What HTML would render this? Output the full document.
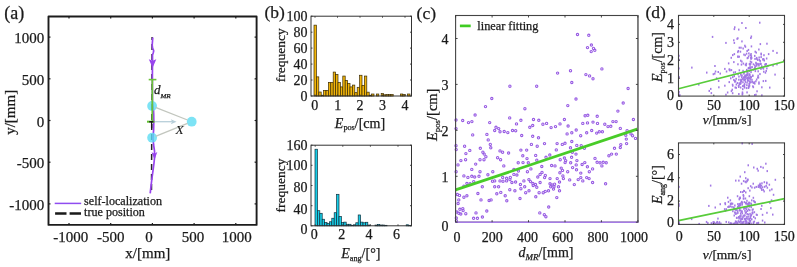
<!DOCTYPE html>
<html><head><meta charset="utf-8"><style>
html,body{margin:0;padding:0;background:#fff;}
svg{display:block;will-change:transform;filter:blur(0.3px);}
text{font-family:"Liberation Serif", serif;fill:#1a1a1a;stroke:#1a1a1a;stroke-width:0.25px;font-variant-ligatures:none;}
</style></head><body>
<svg width="797" height="267" viewBox="0 0 797 267">
<rect width="797" height="267" fill="#fff"/>
<line x1="152.1" y1="37" x2="151.5" y2="193" stroke="#262626" stroke-width="1.5" stroke-dasharray="6,4" stroke-dashoffset="3"/>
<path d="M152.8 37.5 L152.5 41 L152.2 45 L152.6 48 L153.7 50.8 L153.2 53 L152.5 55 L152.5 62 L152.4 75 L152.4 90 L152.5 103 L153.5 110 L153.7 114 L153.8 121 L153.6 130 L153.0 138 L153.6 145 L154.5 151 L154.6 157 L154.0 163 L153.1 170 L152.0 178 L151.0 186 L150.2 193.3" fill="none" stroke="#9844ee" stroke-width="1.7" stroke-linejoin="round"/>
<path d="M152.6 67.8 L148.8 59.3 L152.6 60.7 L156.3 59.3 Z" fill="#9844ee"/>
<path d="M154.5 159.8 L151.6 152.2 L154.5 153.8 L157.3 152.0 Z" fill="#9844ee"/>
<circle cx="152.1" cy="106.0" r="4.9" fill="#5cdcf2" fill-opacity="0.8"/>
<circle cx="191.7" cy="121.7" r="4.9" fill="#5cdcf2" fill-opacity="0.8"/>
<circle cx="152.1" cy="137.7" r="4.9" fill="#5cdcf2" fill-opacity="0.8"/>
<line x1="155.5" y1="107.3" x2="187.5" y2="120.0" stroke="#c2c6be" stroke-width="1.3"/>
<line x1="155.5" y1="136.3" x2="187.5" y2="123.4" stroke="#c2c6be" stroke-width="1.3"/>
<line x1="155" y1="121.7" x2="174" y2="121.7" stroke="#b8cfda" stroke-width="1.3"/>
<path d="M176.6 121.7 L170.8 119.2 L172.2 121.7 L170.8 124.2 Z" fill="#b8cfda"/>
<line x1="152.3" y1="79.5" x2="152.3" y2="121.7" stroke="#6cc23a" stroke-width="1.8"/>
<line x1="148.7" y1="79.6" x2="156.4" y2="79.6" stroke="#6cc23a" stroke-width="1.6"/>
<line x1="147.0" y1="121.7" x2="154.6" y2="121.7" stroke="#5fbf2f" stroke-width="2.0"/>
<line x1="149.2" y1="121.8" x2="153.4" y2="121.8" stroke="#111" stroke-width="1.3"/>
<line x1="151.6" y1="121.0" x2="151.6" y2="128.3" stroke="#1a1a1a" stroke-width="1.3"/>
<text x="153.9" y="94.4" font-size="13" font-style="italic">d<tspan font-size="7.1" dy="3.5">MR</tspan></text>
<text x="175.6" y="134.4" font-size="13.5" font-style="italic" style="stroke-width:0.1px">X</text>
<line x1="54.7" y1="203.4" x2="81.2" y2="203.4" stroke="#8f4cf0" stroke-width="1.5"/>
<line x1="55.1" y1="213.5" x2="81.2" y2="213.5" stroke="#1a1a1a" stroke-width="2.7" stroke-dasharray="11.4,3.1"/>
<text x="84.1" y="204.5" font-size="12.1" text-anchor="start" >self-localization</text>
<text x="84.1" y="215.9" font-size="12.1" text-anchor="start" >true position</text>
<rect x="48.5" y="16.5" width="208.10000000000002" height="208.4" fill="none" stroke="#1c1c1c" stroke-width="1.9" stroke-linejoin="round"/>
<line x1="69.0" y1="224.9" x2="69.0" y2="222.9" stroke="#1c1c1c" stroke-width="1.2"/>
<line x1="69.0" y1="16.5" x2="69.0" y2="18.5" stroke="#1c1c1c" stroke-width="1.2"/>
<line x1="48.5" y1="203.9" x2="50.5" y2="203.9" stroke="#1c1c1c" stroke-width="1.2"/>
<line x1="256.6" y1="203.9" x2="254.60000000000002" y2="203.9" stroke="#1c1c1c" stroke-width="1.2"/>
<line x1="110.7" y1="224.9" x2="110.7" y2="222.9" stroke="#1c1c1c" stroke-width="1.2"/>
<line x1="110.7" y1="16.5" x2="110.7" y2="18.5" stroke="#1c1c1c" stroke-width="1.2"/>
<line x1="48.5" y1="162.2" x2="50.5" y2="162.2" stroke="#1c1c1c" stroke-width="1.2"/>
<line x1="256.6" y1="162.2" x2="254.60000000000002" y2="162.2" stroke="#1c1c1c" stroke-width="1.2"/>
<line x1="152.4" y1="224.9" x2="152.4" y2="222.9" stroke="#1c1c1c" stroke-width="1.2"/>
<line x1="152.4" y1="16.5" x2="152.4" y2="18.5" stroke="#1c1c1c" stroke-width="1.2"/>
<line x1="48.5" y1="120.5" x2="50.5" y2="120.5" stroke="#1c1c1c" stroke-width="1.2"/>
<line x1="256.6" y1="120.5" x2="254.60000000000002" y2="120.5" stroke="#1c1c1c" stroke-width="1.2"/>
<line x1="194.1" y1="224.9" x2="194.1" y2="222.9" stroke="#1c1c1c" stroke-width="1.2"/>
<line x1="194.1" y1="16.5" x2="194.1" y2="18.5" stroke="#1c1c1c" stroke-width="1.2"/>
<line x1="48.5" y1="78.8" x2="50.5" y2="78.8" stroke="#1c1c1c" stroke-width="1.2"/>
<line x1="256.6" y1="78.8" x2="254.60000000000002" y2="78.8" stroke="#1c1c1c" stroke-width="1.2"/>
<line x1="235.8" y1="224.9" x2="235.8" y2="222.9" stroke="#1c1c1c" stroke-width="1.2"/>
<line x1="235.8" y1="16.5" x2="235.8" y2="18.5" stroke="#1c1c1c" stroke-width="1.2"/>
<line x1="48.5" y1="37.1" x2="50.5" y2="37.1" stroke="#1c1c1c" stroke-width="1.2"/>
<line x1="256.6" y1="37.1" x2="254.60000000000002" y2="37.1" stroke="#1c1c1c" stroke-width="1.2"/>
<text x="70.75" y="241.7" font-size="15" text-anchor="middle" >-1000</text>
<text x="110.7" y="241.7" font-size="15" text-anchor="middle" >-500</text>
<text x="149.0" y="241.7" font-size="15" text-anchor="middle" >0</text>
<text x="193.0" y="241.7" font-size="15" text-anchor="middle" >500</text>
<text x="236.8" y="241.7" font-size="15" text-anchor="middle" >1000</text>
<text x="44.2" y="43.1" font-size="15" text-anchor="end" >1000</text>
<text x="44.2" y="84.8" font-size="15" text-anchor="end" >500</text>
<text x="44.2" y="126.5" font-size="15" text-anchor="end" >0</text>
<text x="44.2" y="168.2" font-size="15" text-anchor="end" >-500</text>
<text x="44.2" y="209.9" font-size="15" text-anchor="end" >-1000</text>
<text x="147.8" y="258.2" font-size="15" text-anchor="middle" >x/[mm]</text>
<text transform="translate(15.3,112.3) rotate(-90)" font-size="15" text-anchor="middle">y/[mm]</text>
<text x="4.3" y="19.0" font-size="18" text-anchor="start" >(a)</text>
<rect x="314.00" y="25.14" width="2.40" height="70.86" fill="#f2b50a" stroke="#3b2c05" stroke-width="0.7"/>
<rect x="316.40" y="76.85" width="2.40" height="19.15" fill="#f2b50a" stroke="#3b2c05" stroke-width="0.7"/>
<rect x="318.80" y="92.01" width="2.40" height="3.99" fill="#f2b50a" stroke="#3b2c05" stroke-width="0.7"/>
<rect x="321.20" y="95.20" width="2.40" height="0.80" fill="#f2b50a" stroke="#3b2c05" stroke-width="0.7"/>
<rect x="323.60" y="90.41" width="2.40" height="5.59" fill="#f2b50a" stroke="#3b2c05" stroke-width="0.7"/>
<rect x="326.00" y="90.41" width="2.40" height="5.59" fill="#f2b50a" stroke="#3b2c05" stroke-width="0.7"/>
<rect x="328.40" y="82.43" width="2.40" height="13.57" fill="#f2b50a" stroke="#3b2c05" stroke-width="0.7"/>
<rect x="330.80" y="82.43" width="2.40" height="13.57" fill="#f2b50a" stroke="#3b2c05" stroke-width="0.7"/>
<rect x="333.20" y="72.06" width="2.40" height="23.94" fill="#f2b50a" stroke="#3b2c05" stroke-width="0.7"/>
<rect x="335.60" y="74.45" width="2.40" height="21.55" fill="#f2b50a" stroke="#3b2c05" stroke-width="0.7"/>
<rect x="338.00" y="82.43" width="2.40" height="13.57" fill="#f2b50a" stroke="#3b2c05" stroke-width="0.7"/>
<rect x="340.40" y="86.90" width="2.40" height="9.10" fill="#f2b50a" stroke="#3b2c05" stroke-width="0.7"/>
<rect x="342.80" y="76.05" width="2.40" height="19.95" fill="#f2b50a" stroke="#3b2c05" stroke-width="0.7"/>
<rect x="345.20" y="80.36" width="2.40" height="15.64" fill="#f2b50a" stroke="#3b2c05" stroke-width="0.7"/>
<rect x="347.60" y="83.39" width="2.40" height="12.61" fill="#f2b50a" stroke="#3b2c05" stroke-width="0.7"/>
<rect x="350.00" y="86.90" width="2.40" height="9.10" fill="#f2b50a" stroke="#3b2c05" stroke-width="0.7"/>
<rect x="352.40" y="85.07" width="2.40" height="10.93" fill="#f2b50a" stroke="#3b2c05" stroke-width="0.7"/>
<rect x="354.80" y="92.65" width="2.40" height="3.35" fill="#f2b50a" stroke="#3b2c05" stroke-width="0.7"/>
<rect x="357.20" y="87.30" width="2.40" height="8.70" fill="#f2b50a" stroke="#3b2c05" stroke-width="0.7"/>
<rect x="359.60" y="75.25" width="2.40" height="20.75" fill="#f2b50a" stroke="#3b2c05" stroke-width="0.7"/>
<rect x="362.00" y="85.39" width="2.40" height="10.61" fill="#f2b50a" stroke="#3b2c05" stroke-width="0.7"/>
<rect x="364.40" y="76.05" width="2.40" height="19.95" fill="#f2b50a" stroke="#3b2c05" stroke-width="0.7"/>
<rect x="366.80" y="92.17" width="2.40" height="3.83" fill="#f2b50a" stroke="#3b2c05" stroke-width="0.7"/>
<rect x="369.20" y="95.20" width="2.40" height="0.80" fill="#f2b50a" stroke="#3b2c05" stroke-width="0.7"/>
<rect x="371.60" y="94.00" width="2.40" height="1.99" fill="#f2b50a" stroke="#3b2c05" stroke-width="0.7"/>
<rect x="376.40" y="94.00" width="2.40" height="1.99" fill="#f2b50a" stroke="#3b2c05" stroke-width="0.7"/>
<rect x="381.20" y="93.61" width="2.40" height="2.39" fill="#f2b50a" stroke="#3b2c05" stroke-width="0.7"/>
<rect x="383.60" y="94.80" width="2.40" height="1.20" fill="#f2b50a" stroke="#3b2c05" stroke-width="0.7"/>
<rect x="386.00" y="94.56" width="2.40" height="1.44" fill="#f2b50a" stroke="#3b2c05" stroke-width="0.7"/>
<rect x="388.40" y="94.56" width="2.40" height="1.44" fill="#f2b50a" stroke="#3b2c05" stroke-width="0.7"/>
<rect x="390.80" y="94.56" width="2.40" height="1.44" fill="#f2b50a" stroke="#3b2c05" stroke-width="0.7"/>
<rect x="400.40" y="94.00" width="2.40" height="1.99" fill="#f2b50a" stroke="#3b2c05" stroke-width="0.7"/>
<rect x="402.80" y="94.56" width="2.40" height="1.44" fill="#f2b50a" stroke="#3b2c05" stroke-width="0.7"/>
<rect x="407.60" y="94.00" width="2.40" height="1.99" fill="#f2b50a" stroke="#3b2c05" stroke-width="0.7"/>
<rect x="315.00" y="149.23" width="2.40" height="76.57" fill="#17cde6" stroke="#0f2f3c" stroke-width="0.7"/>
<rect x="317.40" y="210.69" width="2.40" height="15.11" fill="#17cde6" stroke="#0f2f3c" stroke-width="0.7"/>
<rect x="319.80" y="213.31" width="2.40" height="12.49" fill="#17cde6" stroke="#0f2f3c" stroke-width="0.7"/>
<rect x="322.20" y="219.25" width="2.40" height="6.55" fill="#17cde6" stroke="#0f2f3c" stroke-width="0.7"/>
<rect x="324.60" y="222.53" width="2.40" height="3.27" fill="#17cde6" stroke="#0f2f3c" stroke-width="0.7"/>
<rect x="327.00" y="223.58" width="2.40" height="2.22" fill="#17cde6" stroke="#0f2f3c" stroke-width="0.7"/>
<rect x="329.40" y="221.77" width="2.40" height="4.03" fill="#17cde6" stroke="#0f2f3c" stroke-width="0.7"/>
<rect x="331.80" y="218.24" width="2.40" height="7.56" fill="#17cde6" stroke="#0f2f3c" stroke-width="0.7"/>
<rect x="334.20" y="212.70" width="2.40" height="13.10" fill="#17cde6" stroke="#0f2f3c" stroke-width="0.7"/>
<rect x="336.60" y="194.32" width="2.40" height="31.48" fill="#17cde6" stroke="#0f2f3c" stroke-width="0.7"/>
<rect x="339.00" y="216.48" width="2.40" height="9.32" fill="#17cde6" stroke="#0f2f3c" stroke-width="0.7"/>
<rect x="341.40" y="222.53" width="2.40" height="3.27" fill="#17cde6" stroke="#0f2f3c" stroke-width="0.7"/>
<rect x="343.80" y="222.12" width="2.40" height="3.68" fill="#17cde6" stroke="#0f2f3c" stroke-width="0.7"/>
<rect x="346.20" y="224.29" width="2.40" height="1.51" fill="#17cde6" stroke="#0f2f3c" stroke-width="0.7"/>
<rect x="348.60" y="224.29" width="2.40" height="1.51" fill="#17cde6" stroke="#0f2f3c" stroke-width="0.7"/>
<rect x="351.00" y="225.30" width="2.40" height="0.50" fill="#17cde6" stroke="#0f2f3c" stroke-width="0.7"/>
<rect x="353.40" y="224.79" width="2.40" height="1.01" fill="#17cde6" stroke="#0f2f3c" stroke-width="0.7"/>
<rect x="355.80" y="222.78" width="2.40" height="3.02" fill="#17cde6" stroke="#0f2f3c" stroke-width="0.7"/>
<rect x="358.20" y="214.97" width="2.40" height="10.83" fill="#17cde6" stroke="#0f2f3c" stroke-width="0.7"/>
<rect x="360.60" y="222.12" width="2.40" height="3.68" fill="#17cde6" stroke="#0f2f3c" stroke-width="0.7"/>
<rect x="363.00" y="222.78" width="2.40" height="3.02" fill="#17cde6" stroke="#0f2f3c" stroke-width="0.7"/>
<rect x="365.40" y="222.27" width="2.40" height="3.53" fill="#17cde6" stroke="#0f2f3c" stroke-width="0.7"/>
<rect x="367.80" y="225.04" width="2.40" height="0.76" fill="#17cde6" stroke="#0f2f3c" stroke-width="0.7"/>
<rect x="375.00" y="225.04" width="2.40" height="0.76" fill="#17cde6" stroke="#0f2f3c" stroke-width="0.7"/>
<rect x="377.40" y="224.54" width="2.40" height="1.26" fill="#17cde6" stroke="#0f2f3c" stroke-width="0.7"/>
<rect x="379.80" y="225.04" width="2.40" height="0.76" fill="#17cde6" stroke="#0f2f3c" stroke-width="0.7"/>
<rect x="382.20" y="225.04" width="2.40" height="0.76" fill="#17cde6" stroke="#0f2f3c" stroke-width="0.7"/>
<rect x="384.60" y="225.30" width="2.40" height="0.50" fill="#17cde6" stroke="#0f2f3c" stroke-width="0.7"/>
<rect x="406.20" y="224.79" width="2.40" height="1.01" fill="#17cde6" stroke="#0f2f3c" stroke-width="0.7"/>
<rect x="408.60" y="225.30" width="2.40" height="0.50" fill="#17cde6" stroke="#0f2f3c" stroke-width="0.7"/>
<rect x="311.0" y="16.2" width="100.5" height="79.8" fill="none" stroke="#333" stroke-width="1"/>
<rect x="311.0" y="145.2" width="100.5" height="80.60000000000002" fill="none" stroke="#333" stroke-width="1"/>
<line x1="315.0" y1="96.0" x2="315.0" y2="94.5" stroke="#333" stroke-width="0.9"/>
<line x1="315.0" y1="16.2" x2="315.0" y2="17.7" stroke="#333" stroke-width="0.9"/>
<line x1="337.5" y1="96.0" x2="337.5" y2="94.5" stroke="#333" stroke-width="0.9"/>
<line x1="337.5" y1="16.2" x2="337.5" y2="17.7" stroke="#333" stroke-width="0.9"/>
<line x1="360.0" y1="96.0" x2="360.0" y2="94.5" stroke="#333" stroke-width="0.9"/>
<line x1="360.0" y1="16.2" x2="360.0" y2="17.7" stroke="#333" stroke-width="0.9"/>
<line x1="382.5" y1="96.0" x2="382.5" y2="94.5" stroke="#333" stroke-width="0.9"/>
<line x1="382.5" y1="16.2" x2="382.5" y2="17.7" stroke="#333" stroke-width="0.9"/>
<line x1="405.0" y1="96.0" x2="405.0" y2="94.5" stroke="#333" stroke-width="0.9"/>
<line x1="405.0" y1="16.2" x2="405.0" y2="17.7" stroke="#333" stroke-width="0.9"/>
<line x1="311.0" y1="96.0" x2="312.5" y2="96.0" stroke="#333" stroke-width="0.9"/>
<line x1="411.5" y1="96.0" x2="410.0" y2="96.0" stroke="#333" stroke-width="0.9"/>
<text x="307.5" y="100.8" font-size="14" text-anchor="end" >0</text>
<line x1="311.0" y1="80.0" x2="312.5" y2="80.0" stroke="#333" stroke-width="0.9"/>
<line x1="411.5" y1="80.0" x2="410.0" y2="80.0" stroke="#333" stroke-width="0.9"/>
<text x="307.5" y="84.8" font-size="14" text-anchor="end" >20</text>
<line x1="311.0" y1="64.1" x2="312.5" y2="64.1" stroke="#333" stroke-width="0.9"/>
<line x1="411.5" y1="64.1" x2="410.0" y2="64.1" stroke="#333" stroke-width="0.9"/>
<text x="307.5" y="68.9" font-size="14" text-anchor="end" >40</text>
<line x1="311.0" y1="48.1" x2="312.5" y2="48.1" stroke="#333" stroke-width="0.9"/>
<line x1="411.5" y1="48.1" x2="410.0" y2="48.1" stroke="#333" stroke-width="0.9"/>
<text x="307.5" y="52.9" font-size="14" text-anchor="end" >60</text>
<line x1="311.0" y1="32.2" x2="312.5" y2="32.2" stroke="#333" stroke-width="0.9"/>
<line x1="411.5" y1="32.2" x2="410.0" y2="32.2" stroke="#333" stroke-width="0.9"/>
<text x="307.5" y="37.0" font-size="14" text-anchor="end" >80</text>
<line x1="311.0" y1="16.2" x2="312.5" y2="16.2" stroke="#333" stroke-width="0.9"/>
<line x1="411.5" y1="16.2" x2="410.0" y2="16.2" stroke="#333" stroke-width="0.9"/>
<text x="307.5" y="21.0" font-size="14" text-anchor="end" >100</text>
<text x="314.7" y="110.2" font-size="14" text-anchor="middle" >0</text>
<text x="337.8" y="110.2" font-size="14" text-anchor="middle" >1</text>
<text x="360.0" y="110.2" font-size="14" text-anchor="middle" >2</text>
<text x="382.6" y="110.2" font-size="14" text-anchor="middle" >3</text>
<text x="405.0" y="110.2" font-size="14" text-anchor="middle" >4</text>
<line x1="315.2" y1="225.8" x2="315.2" y2="224.3" stroke="#333" stroke-width="0.9"/>
<line x1="315.2" y1="145.2" x2="315.2" y2="146.7" stroke="#333" stroke-width="0.9"/>
<line x1="342.8" y1="225.8" x2="342.8" y2="224.3" stroke="#333" stroke-width="0.9"/>
<line x1="342.8" y1="145.2" x2="342.8" y2="146.7" stroke="#333" stroke-width="0.9"/>
<line x1="370.4" y1="225.8" x2="370.4" y2="224.3" stroke="#333" stroke-width="0.9"/>
<line x1="370.4" y1="145.2" x2="370.4" y2="146.7" stroke="#333" stroke-width="0.9"/>
<line x1="398.0" y1="225.8" x2="398.0" y2="224.3" stroke="#333" stroke-width="0.9"/>
<line x1="398.0" y1="145.2" x2="398.0" y2="146.7" stroke="#333" stroke-width="0.9"/>
<line x1="311.0" y1="225.8" x2="312.5" y2="225.8" stroke="#333" stroke-width="0.9"/>
<line x1="411.5" y1="225.8" x2="410.0" y2="225.8" stroke="#333" stroke-width="0.9"/>
<text x="307.5" y="233.7" font-size="14" text-anchor="end" >0</text>
<line x1="311.0" y1="205.7" x2="312.5" y2="205.7" stroke="#333" stroke-width="0.9"/>
<line x1="411.5" y1="205.7" x2="410.0" y2="205.7" stroke="#333" stroke-width="0.9"/>
<text x="307.5" y="213.7" font-size="14" text-anchor="end" >40</text>
<line x1="311.0" y1="185.5" x2="312.5" y2="185.5" stroke="#333" stroke-width="0.9"/>
<line x1="411.5" y1="185.5" x2="410.0" y2="185.5" stroke="#333" stroke-width="0.9"/>
<text x="307.5" y="191.5" font-size="14" text-anchor="end" >80</text>
<line x1="311.0" y1="165.3" x2="312.5" y2="165.3" stroke="#333" stroke-width="0.9"/>
<line x1="411.5" y1="165.3" x2="410.0" y2="165.3" stroke="#333" stroke-width="0.9"/>
<text x="307.5" y="169.9" font-size="14" text-anchor="end" >100</text>
<line x1="311.0" y1="145.2" x2="312.5" y2="145.2" stroke="#333" stroke-width="0.9"/>
<line x1="411.5" y1="145.2" x2="410.0" y2="145.2" stroke="#333" stroke-width="0.9"/>
<text x="307.5" y="150.2" font-size="14" text-anchor="end" >160</text>
<text x="314.3" y="239.0" font-size="14" text-anchor="middle" >0</text>
<text x="341.7" y="239.0" font-size="14" text-anchor="middle" >2</text>
<text x="369.0" y="239.0" font-size="14" text-anchor="middle" >4</text>
<text x="396.5" y="239.0" font-size="14" text-anchor="middle" >6</text>
<text x="360.0" y="127.9" font-size="14" text-anchor="middle"><tspan font-style="italic">E</tspan><tspan font-size="8.2" dy="2.5">pos</tspan><tspan dy="-2.5">/[cm]</tspan></text>
<text x="360.8" y="258" font-size="14" text-anchor="middle"><tspan font-style="italic">E</tspan><tspan font-size="8.2" dy="2.5">ang</tspan><tspan dy="-2.5">/[°]</tspan></text>
<text transform="translate(285.2,55.3) rotate(-90)" font-size="13.5" text-anchor="middle">frequency</text>
<text transform="translate(285.2,185.6) rotate(-90)" font-size="13.5" text-anchor="middle">frequency</text>
<text x="264.5" y="17.9" font-size="17.5" text-anchor="start" >(b)</text>
<circle cx="577.5" cy="34.5" r="1.15" fill="none" stroke="#975ae3" stroke-width="1.1"/>
<circle cx="588.8" cy="35.3" r="1.15" fill="none" stroke="#975ae3" stroke-width="1.1"/>
<circle cx="591.4" cy="45.0" r="1.15" fill="none" stroke="#975ae3" stroke-width="1.1"/>
<circle cx="587.5" cy="47.6" r="1.15" fill="none" stroke="#975ae3" stroke-width="1.1"/>
<circle cx="593.5" cy="48.4" r="1.15" fill="none" stroke="#975ae3" stroke-width="1.1"/>
<circle cx="594.8" cy="50.3" r="1.15" fill="none" stroke="#975ae3" stroke-width="1.1"/>
<circle cx="591.2" cy="51.6" r="1.15" fill="none" stroke="#975ae3" stroke-width="1.1"/>
<circle cx="601.9" cy="68.9" r="1.15" fill="none" stroke="#975ae3" stroke-width="1.1"/>
<circle cx="557.6" cy="73.1" r="1.15" fill="none" stroke="#975ae3" stroke-width="1.1"/>
<circle cx="570.5" cy="70.7" r="1.15" fill="none" stroke="#975ae3" stroke-width="1.1"/>
<circle cx="585.9" cy="74.6" r="1.15" fill="none" stroke="#975ae3" stroke-width="1.1"/>
<circle cx="589.6" cy="75.9" r="1.15" fill="none" stroke="#975ae3" stroke-width="1.1"/>
<circle cx="593.0" cy="78.8" r="1.15" fill="none" stroke="#975ae3" stroke-width="1.1"/>
<circle cx="571.8" cy="82.5" r="1.15" fill="none" stroke="#975ae3" stroke-width="1.1"/>
<circle cx="509.9" cy="86.2" r="1.15" fill="none" stroke="#975ae3" stroke-width="1.1"/>
<circle cx="536.7" cy="86.2" r="1.15" fill="none" stroke="#975ae3" stroke-width="1.1"/>
<circle cx="491.8" cy="98.5" r="1.15" fill="none" stroke="#975ae3" stroke-width="1.1"/>
<circle cx="485.5" cy="106.6" r="1.15" fill="none" stroke="#975ae3" stroke-width="1.1"/>
<circle cx="524.9" cy="108.7" r="1.15" fill="none" stroke="#975ae3" stroke-width="1.1"/>
<circle cx="475.1" cy="115.0" r="1.15" fill="none" stroke="#975ae3" stroke-width="1.1"/>
<circle cx="509.7" cy="117.9" r="1.15" fill="none" stroke="#975ae3" stroke-width="1.1"/>
<circle cx="456.0" cy="120.0" r="1.15" fill="none" stroke="#975ae3" stroke-width="1.1"/>
<circle cx="462.7" cy="120.5" r="1.15" fill="none" stroke="#975ae3" stroke-width="1.1"/>
<circle cx="468.5" cy="122.6" r="1.15" fill="none" stroke="#975ae3" stroke-width="1.1"/>
<circle cx="471.9" cy="121.6" r="1.15" fill="none" stroke="#975ae3" stroke-width="1.1"/>
<circle cx="489.7" cy="122.6" r="1.15" fill="none" stroke="#975ae3" stroke-width="1.1"/>
<circle cx="520.9" cy="120.3" r="1.15" fill="none" stroke="#975ae3" stroke-width="1.1"/>
<circle cx="533.5" cy="119.5" r="1.15" fill="none" stroke="#975ae3" stroke-width="1.1"/>
<circle cx="538.8" cy="120.3" r="1.15" fill="none" stroke="#975ae3" stroke-width="1.1"/>
<circle cx="542.9" cy="124.2" r="1.15" fill="none" stroke="#975ae3" stroke-width="1.1"/>
<circle cx="546.6" cy="123.4" r="1.15" fill="none" stroke="#975ae3" stroke-width="1.1"/>
<circle cx="516.5" cy="123.9" r="1.15" fill="none" stroke="#975ae3" stroke-width="1.1"/>
<circle cx="496.0" cy="127.3" r="1.15" fill="none" stroke="#975ae3" stroke-width="1.1"/>
<circle cx="498.7" cy="128.6" r="1.15" fill="none" stroke="#975ae3" stroke-width="1.1"/>
<circle cx="494.7" cy="130.5" r="1.15" fill="none" stroke="#975ae3" stroke-width="1.1"/>
<circle cx="500.0" cy="131.8" r="1.15" fill="none" stroke="#975ae3" stroke-width="1.1"/>
<circle cx="504.2" cy="131.5" r="1.15" fill="none" stroke="#975ae3" stroke-width="1.1"/>
<circle cx="507.8" cy="132.6" r="1.15" fill="none" stroke="#975ae3" stroke-width="1.1"/>
<circle cx="512.5" cy="130.5" r="1.15" fill="none" stroke="#975ae3" stroke-width="1.1"/>
<circle cx="515.7" cy="130.7" r="1.15" fill="none" stroke="#975ae3" stroke-width="1.1"/>
<circle cx="532.7" cy="125.5" r="1.15" fill="none" stroke="#975ae3" stroke-width="1.1"/>
<circle cx="529.8" cy="127.3" r="1.15" fill="none" stroke="#975ae3" stroke-width="1.1"/>
<circle cx="456.0" cy="128.6" r="1.15" fill="none" stroke="#975ae3" stroke-width="1.1"/>
<circle cx="472.7" cy="134.9" r="1.15" fill="none" stroke="#975ae3" stroke-width="1.1"/>
<circle cx="486.9" cy="134.4" r="1.15" fill="none" stroke="#975ae3" stroke-width="1.1"/>
<circle cx="521.7" cy="135.5" r="1.15" fill="none" stroke="#975ae3" stroke-width="1.1"/>
<circle cx="532.7" cy="136.3" r="1.15" fill="none" stroke="#975ae3" stroke-width="1.1"/>
<circle cx="538.5" cy="137.8" r="1.15" fill="none" stroke="#975ae3" stroke-width="1.1"/>
<circle cx="488.2" cy="139.9" r="1.15" fill="none" stroke="#975ae3" stroke-width="1.1"/>
<circle cx="490.3" cy="144.4" r="1.15" fill="none" stroke="#975ae3" stroke-width="1.1"/>
<circle cx="490.8" cy="147.8" r="1.15" fill="none" stroke="#975ae3" stroke-width="1.1"/>
<circle cx="464.6" cy="146.2" r="1.15" fill="none" stroke="#975ae3" stroke-width="1.1"/>
<circle cx="456.0" cy="145.7" r="1.15" fill="none" stroke="#975ae3" stroke-width="1.1"/>
<circle cx="456.2" cy="149.6" r="1.15" fill="none" stroke="#975ae3" stroke-width="1.1"/>
<circle cx="469.8" cy="150.4" r="1.15" fill="none" stroke="#975ae3" stroke-width="1.1"/>
<circle cx="480.3" cy="148.3" r="1.15" fill="none" stroke="#975ae3" stroke-width="1.1"/>
<circle cx="482.9" cy="152.2" r="1.15" fill="none" stroke="#975ae3" stroke-width="1.1"/>
<circle cx="484.2" cy="154.1" r="1.15" fill="none" stroke="#975ae3" stroke-width="1.1"/>
<circle cx="500.0" cy="150.9" r="1.15" fill="none" stroke="#975ae3" stroke-width="1.1"/>
<circle cx="502.6" cy="152.2" r="1.15" fill="none" stroke="#975ae3" stroke-width="1.1"/>
<circle cx="508.6" cy="153.0" r="1.15" fill="none" stroke="#975ae3" stroke-width="1.1"/>
<circle cx="520.9" cy="150.1" r="1.15" fill="none" stroke="#975ae3" stroke-width="1.1"/>
<circle cx="526.7" cy="150.1" r="1.15" fill="none" stroke="#975ae3" stroke-width="1.1"/>
<circle cx="531.4" cy="144.4" r="1.15" fill="none" stroke="#975ae3" stroke-width="1.1"/>
<circle cx="537.2" cy="146.2" r="1.15" fill="none" stroke="#975ae3" stroke-width="1.1"/>
<circle cx="544.5" cy="143.6" r="1.15" fill="none" stroke="#975ae3" stroke-width="1.1"/>
<circle cx="465.9" cy="153.6" r="1.15" fill="none" stroke="#975ae3" stroke-width="1.1"/>
<circle cx="628.1" cy="88.5" r="1.15" fill="none" stroke="#975ae3" stroke-width="1.1"/>
<circle cx="576.0" cy="99.0" r="1.15" fill="none" stroke="#975ae3" stroke-width="1.1"/>
<circle cx="567.8" cy="105.6" r="1.15" fill="none" stroke="#975ae3" stroke-width="1.1"/>
<circle cx="623.2" cy="103.0" r="1.15" fill="none" stroke="#975ae3" stroke-width="1.1"/>
<circle cx="617.9" cy="111.1" r="1.15" fill="none" stroke="#975ae3" stroke-width="1.1"/>
<circle cx="551.1" cy="127.6" r="1.15" fill="none" stroke="#975ae3" stroke-width="1.1"/>
<circle cx="555.5" cy="126.6" r="1.15" fill="none" stroke="#975ae3" stroke-width="1.1"/>
<circle cx="560.0" cy="123.9" r="1.15" fill="none" stroke="#975ae3" stroke-width="1.1"/>
<circle cx="564.4" cy="119.5" r="1.15" fill="none" stroke="#975ae3" stroke-width="1.1"/>
<circle cx="568.1" cy="126.0" r="1.15" fill="none" stroke="#975ae3" stroke-width="1.1"/>
<circle cx="585.1" cy="115.8" r="1.15" fill="none" stroke="#975ae3" stroke-width="1.1"/>
<circle cx="587.8" cy="115.3" r="1.15" fill="none" stroke="#975ae3" stroke-width="1.1"/>
<circle cx="582.8" cy="123.4" r="1.15" fill="none" stroke="#975ae3" stroke-width="1.1"/>
<circle cx="587.5" cy="122.9" r="1.15" fill="none" stroke="#975ae3" stroke-width="1.1"/>
<circle cx="593.0" cy="122.1" r="1.15" fill="none" stroke="#975ae3" stroke-width="1.1"/>
<circle cx="597.2" cy="116.3" r="1.15" fill="none" stroke="#975ae3" stroke-width="1.1"/>
<circle cx="597.5" cy="123.4" r="1.15" fill="none" stroke="#975ae3" stroke-width="1.1"/>
<circle cx="576.2" cy="130.0" r="1.15" fill="none" stroke="#975ae3" stroke-width="1.1"/>
<circle cx="604.8" cy="124.2" r="1.15" fill="none" stroke="#975ae3" stroke-width="1.1"/>
<circle cx="608.0" cy="126.6" r="1.15" fill="none" stroke="#975ae3" stroke-width="1.1"/>
<circle cx="610.8" cy="126.3" r="1.15" fill="none" stroke="#975ae3" stroke-width="1.1"/>
<circle cx="612.9" cy="121.6" r="1.15" fill="none" stroke="#975ae3" stroke-width="1.1"/>
<circle cx="616.1" cy="121.6" r="1.15" fill="none" stroke="#975ae3" stroke-width="1.1"/>
<circle cx="633.4" cy="119.5" r="1.15" fill="none" stroke="#975ae3" stroke-width="1.1"/>
<circle cx="620.3" cy="128.4" r="1.15" fill="none" stroke="#975ae3" stroke-width="1.1"/>
<circle cx="627.1" cy="130.7" r="1.15" fill="none" stroke="#975ae3" stroke-width="1.1"/>
<circle cx="571.8" cy="132.8" r="1.15" fill="none" stroke="#975ae3" stroke-width="1.1"/>
<circle cx="567.1" cy="133.9" r="1.15" fill="none" stroke="#975ae3" stroke-width="1.1"/>
<circle cx="580.7" cy="135.7" r="1.15" fill="none" stroke="#975ae3" stroke-width="1.1"/>
<circle cx="586.7" cy="132.8" r="1.15" fill="none" stroke="#975ae3" stroke-width="1.1"/>
<circle cx="591.7" cy="130.5" r="1.15" fill="none" stroke="#975ae3" stroke-width="1.1"/>
<circle cx="596.7" cy="133.1" r="1.15" fill="none" stroke="#975ae3" stroke-width="1.1"/>
<circle cx="599.3" cy="131.8" r="1.15" fill="none" stroke="#975ae3" stroke-width="1.1"/>
<circle cx="602.4" cy="131.8" r="1.15" fill="none" stroke="#975ae3" stroke-width="1.1"/>
<circle cx="631.0" cy="133.9" r="1.15" fill="none" stroke="#975ae3" stroke-width="1.1"/>
<circle cx="632.6" cy="135.7" r="1.15" fill="none" stroke="#975ae3" stroke-width="1.1"/>
<circle cx="625.8" cy="135.2" r="1.15" fill="none" stroke="#975ae3" stroke-width="1.1"/>
<circle cx="635.5" cy="138.4" r="1.15" fill="none" stroke="#975ae3" stroke-width="1.1"/>
<circle cx="626.3" cy="139.1" r="1.15" fill="none" stroke="#975ae3" stroke-width="1.1"/>
<circle cx="571.8" cy="141.5" r="1.15" fill="none" stroke="#975ae3" stroke-width="1.1"/>
<circle cx="557.1" cy="143.6" r="1.15" fill="none" stroke="#975ae3" stroke-width="1.1"/>
<circle cx="562.3" cy="144.4" r="1.15" fill="none" stroke="#975ae3" stroke-width="1.1"/>
<circle cx="565.0" cy="143.3" r="1.15" fill="none" stroke="#975ae3" stroke-width="1.1"/>
<circle cx="576.8" cy="145.4" r="1.15" fill="none" stroke="#975ae3" stroke-width="1.1"/>
<circle cx="581.2" cy="145.7" r="1.15" fill="none" stroke="#975ae3" stroke-width="1.1"/>
<circle cx="570.5" cy="147.8" r="1.15" fill="none" stroke="#975ae3" stroke-width="1.1"/>
<circle cx="584.4" cy="148.3" r="1.15" fill="none" stroke="#975ae3" stroke-width="1.1"/>
<circle cx="556.3" cy="149.9" r="1.15" fill="none" stroke="#975ae3" stroke-width="1.1"/>
<circle cx="572.3" cy="152.2" r="1.15" fill="none" stroke="#975ae3" stroke-width="1.1"/>
<circle cx="576.0" cy="154.1" r="1.15" fill="none" stroke="#975ae3" stroke-width="1.1"/>
<circle cx="626.6" cy="143.6" r="1.15" fill="none" stroke="#975ae3" stroke-width="1.1"/>
<circle cx="620.8" cy="144.6" r="1.15" fill="none" stroke="#975ae3" stroke-width="1.1"/>
<circle cx="620.3" cy="147.5" r="1.15" fill="none" stroke="#975ae3" stroke-width="1.1"/>
<circle cx="614.5" cy="148.3" r="1.15" fill="none" stroke="#975ae3" stroke-width="1.1"/>
<circle cx="611.6" cy="154.1" r="1.15" fill="none" stroke="#975ae3" stroke-width="1.1"/>
<circle cx="616.3" cy="154.1" r="1.15" fill="none" stroke="#975ae3" stroke-width="1.1"/>
<circle cx="485.9" cy="156.7" r="1.15" fill="none" stroke="#975ae3" stroke-width="1.1"/>
<circle cx="497.6" cy="157.7" r="1.15" fill="none" stroke="#975ae3" stroke-width="1.1"/>
<circle cx="500.6" cy="159.7" r="1.15" fill="none" stroke="#975ae3" stroke-width="1.1"/>
<circle cx="460.9" cy="160.6" r="1.15" fill="none" stroke="#975ae3" stroke-width="1.1"/>
<circle cx="465.6" cy="159.7" r="1.15" fill="none" stroke="#975ae3" stroke-width="1.1"/>
<circle cx="480.0" cy="159.7" r="1.15" fill="none" stroke="#975ae3" stroke-width="1.1"/>
<circle cx="484.0" cy="159.7" r="1.15" fill="none" stroke="#975ae3" stroke-width="1.1"/>
<circle cx="475.7" cy="164.1" r="1.15" fill="none" stroke="#975ae3" stroke-width="1.1"/>
<circle cx="458.0" cy="164.9" r="1.15" fill="none" stroke="#975ae3" stroke-width="1.1"/>
<circle cx="471.8" cy="169.4" r="1.15" fill="none" stroke="#975ae3" stroke-width="1.1"/>
<circle cx="456.1" cy="171.7" r="1.15" fill="none" stroke="#975ae3" stroke-width="1.1"/>
<circle cx="480.0" cy="171.7" r="1.15" fill="none" stroke="#975ae3" stroke-width="1.1"/>
<circle cx="492.8" cy="171.7" r="1.15" fill="none" stroke="#975ae3" stroke-width="1.1"/>
<circle cx="487.9" cy="174.8" r="1.15" fill="none" stroke="#975ae3" stroke-width="1.1"/>
<circle cx="463.9" cy="175.9" r="1.15" fill="none" stroke="#975ae3" stroke-width="1.1"/>
<circle cx="467.9" cy="177.4" r="1.15" fill="none" stroke="#975ae3" stroke-width="1.1"/>
<circle cx="471.8" cy="176.3" r="1.15" fill="none" stroke="#975ae3" stroke-width="1.1"/>
<circle cx="474.7" cy="177.0" r="1.15" fill="none" stroke="#975ae3" stroke-width="1.1"/>
<circle cx="479.0" cy="176.3" r="1.15" fill="none" stroke="#975ae3" stroke-width="1.1"/>
<circle cx="473.7" cy="181.6" r="1.15" fill="none" stroke="#975ae3" stroke-width="1.1"/>
<circle cx="466.9" cy="183.5" r="1.15" fill="none" stroke="#975ae3" stroke-width="1.1"/>
<circle cx="470.1" cy="183.8" r="1.15" fill="none" stroke="#975ae3" stroke-width="1.1"/>
<circle cx="492.5" cy="181.2" r="1.15" fill="none" stroke="#975ae3" stroke-width="1.1"/>
<circle cx="494.7" cy="180.9" r="1.15" fill="none" stroke="#975ae3" stroke-width="1.1"/>
<circle cx="500.0" cy="180.9" r="1.15" fill="none" stroke="#975ae3" stroke-width="1.1"/>
<circle cx="482.3" cy="186.8" r="1.15" fill="none" stroke="#975ae3" stroke-width="1.1"/>
<circle cx="494.7" cy="186.8" r="1.15" fill="none" stroke="#975ae3" stroke-width="1.1"/>
<circle cx="498.6" cy="186.8" r="1.15" fill="none" stroke="#975ae3" stroke-width="1.1"/>
<circle cx="463.9" cy="186.2" r="1.15" fill="none" stroke="#975ae3" stroke-width="1.1"/>
<circle cx="522.8" cy="155.8" r="1.15" fill="none" stroke="#975ae3" stroke-width="1.1"/>
<circle cx="535.7" cy="155.4" r="1.15" fill="none" stroke="#975ae3" stroke-width="1.1"/>
<circle cx="527.0" cy="158.6" r="1.15" fill="none" stroke="#975ae3" stroke-width="1.1"/>
<circle cx="536.8" cy="160.2" r="1.15" fill="none" stroke="#975ae3" stroke-width="1.1"/>
<circle cx="518.2" cy="162.8" r="1.15" fill="none" stroke="#975ae3" stroke-width="1.1"/>
<circle cx="523.0" cy="162.6" r="1.15" fill="none" stroke="#975ae3" stroke-width="1.1"/>
<circle cx="528.3" cy="162.8" r="1.15" fill="none" stroke="#975ae3" stroke-width="1.1"/>
<circle cx="546.0" cy="157.3" r="1.15" fill="none" stroke="#975ae3" stroke-width="1.1"/>
<circle cx="503.8" cy="165.9" r="1.15" fill="none" stroke="#975ae3" stroke-width="1.1"/>
<circle cx="541.8" cy="166.5" r="1.15" fill="none" stroke="#975ae3" stroke-width="1.1"/>
<circle cx="513.9" cy="169.4" r="1.15" fill="none" stroke="#975ae3" stroke-width="1.1"/>
<circle cx="518.4" cy="171.1" r="1.15" fill="none" stroke="#975ae3" stroke-width="1.1"/>
<circle cx="530.9" cy="168.9" r="1.15" fill="none" stroke="#975ae3" stroke-width="1.1"/>
<circle cx="527.4" cy="171.7" r="1.15" fill="none" stroke="#975ae3" stroke-width="1.1"/>
<circle cx="542.0" cy="172.4" r="1.15" fill="none" stroke="#975ae3" stroke-width="1.1"/>
<circle cx="513.9" cy="174.4" r="1.15" fill="none" stroke="#975ae3" stroke-width="1.1"/>
<circle cx="516.9" cy="175.0" r="1.15" fill="none" stroke="#975ae3" stroke-width="1.1"/>
<circle cx="540.1" cy="174.4" r="1.15" fill="none" stroke="#975ae3" stroke-width="1.1"/>
<circle cx="537.8" cy="177.0" r="1.15" fill="none" stroke="#975ae3" stroke-width="1.1"/>
<circle cx="545.3" cy="175.4" r="1.15" fill="none" stroke="#975ae3" stroke-width="1.1"/>
<circle cx="544.6" cy="177.6" r="1.15" fill="none" stroke="#975ae3" stroke-width="1.1"/>
<circle cx="502.7" cy="177.4" r="1.15" fill="none" stroke="#975ae3" stroke-width="1.1"/>
<circle cx="506.6" cy="178.3" r="1.15" fill="none" stroke="#975ae3" stroke-width="1.1"/>
<circle cx="510.3" cy="177.4" r="1.15" fill="none" stroke="#975ae3" stroke-width="1.1"/>
<circle cx="503.0" cy="181.2" r="1.15" fill="none" stroke="#975ae3" stroke-width="1.1"/>
<circle cx="506.6" cy="180.9" r="1.15" fill="none" stroke="#975ae3" stroke-width="1.1"/>
<circle cx="509.9" cy="179.6" r="1.15" fill="none" stroke="#975ae3" stroke-width="1.1"/>
<circle cx="511.9" cy="182.5" r="1.15" fill="none" stroke="#975ae3" stroke-width="1.1"/>
<circle cx="515.6" cy="182.0" r="1.15" fill="none" stroke="#975ae3" stroke-width="1.1"/>
<circle cx="523.9" cy="180.9" r="1.15" fill="none" stroke="#975ae3" stroke-width="1.1"/>
<circle cx="528.9" cy="179.6" r="1.15" fill="none" stroke="#975ae3" stroke-width="1.1"/>
<circle cx="530.5" cy="181.6" r="1.15" fill="none" stroke="#975ae3" stroke-width="1.1"/>
<circle cx="532.9" cy="183.5" r="1.15" fill="none" stroke="#975ae3" stroke-width="1.1"/>
<circle cx="535.5" cy="184.5" r="1.15" fill="none" stroke="#975ae3" stroke-width="1.1"/>
<circle cx="540.1" cy="182.5" r="1.15" fill="none" stroke="#975ae3" stroke-width="1.1"/>
<circle cx="520.4" cy="184.5" r="1.15" fill="none" stroke="#975ae3" stroke-width="1.1"/>
<circle cx="524.7" cy="186.8" r="1.15" fill="none" stroke="#975ae3" stroke-width="1.1"/>
<circle cx="533.2" cy="185.5" r="1.15" fill="none" stroke="#975ae3" stroke-width="1.1"/>
<circle cx="536.8" cy="187.2" r="1.15" fill="none" stroke="#975ae3" stroke-width="1.1"/>
<circle cx="457.4" cy="194.5" r="1.15" fill="none" stroke="#975ae3" stroke-width="1.1"/>
<circle cx="459.5" cy="195.4" r="1.15" fill="none" stroke="#975ae3" stroke-width="1.1"/>
<circle cx="463.9" cy="197.2" r="1.15" fill="none" stroke="#975ae3" stroke-width="1.1"/>
<circle cx="466.9" cy="195.8" r="1.15" fill="none" stroke="#975ae3" stroke-width="1.1"/>
<circle cx="477.9" cy="193.5" r="1.15" fill="none" stroke="#975ae3" stroke-width="1.1"/>
<circle cx="496.8" cy="193.8" r="1.15" fill="none" stroke="#975ae3" stroke-width="1.1"/>
<circle cx="500.8" cy="192.4" r="1.15" fill="none" stroke="#975ae3" stroke-width="1.1"/>
<circle cx="458.8" cy="199.9" r="1.15" fill="none" stroke="#975ae3" stroke-width="1.1"/>
<circle cx="481.0" cy="199.9" r="1.15" fill="none" stroke="#975ae3" stroke-width="1.1"/>
<circle cx="489.1" cy="200.5" r="1.15" fill="none" stroke="#975ae3" stroke-width="1.1"/>
<circle cx="491.1" cy="199.9" r="1.15" fill="none" stroke="#975ae3" stroke-width="1.1"/>
<circle cx="458.1" cy="203.5" r="1.15" fill="none" stroke="#975ae3" stroke-width="1.1"/>
<circle cx="459.9" cy="209.3" r="1.15" fill="none" stroke="#975ae3" stroke-width="1.1"/>
<circle cx="462.8" cy="208.6" r="1.15" fill="none" stroke="#975ae3" stroke-width="1.1"/>
<circle cx="463.1" cy="210.6" r="1.15" fill="none" stroke="#975ae3" stroke-width="1.1"/>
<circle cx="456.8" cy="212.0" r="1.15" fill="none" stroke="#975ae3" stroke-width="1.1"/>
<circle cx="458.8" cy="213.3" r="1.15" fill="none" stroke="#975ae3" stroke-width="1.1"/>
<circle cx="460.8" cy="214.0" r="1.15" fill="none" stroke="#975ae3" stroke-width="1.1"/>
<circle cx="465.8" cy="213.7" r="1.15" fill="none" stroke="#975ae3" stroke-width="1.1"/>
<circle cx="476.0" cy="212.9" r="1.15" fill="none" stroke="#975ae3" stroke-width="1.1"/>
<circle cx="486.8" cy="211.0" r="1.15" fill="none" stroke="#975ae3" stroke-width="1.1"/>
<circle cx="473.6" cy="218.3" r="1.15" fill="none" stroke="#975ae3" stroke-width="1.1"/>
<circle cx="477.4" cy="218.3" r="1.15" fill="none" stroke="#975ae3" stroke-width="1.1"/>
<circle cx="482.4" cy="217.0" r="1.15" fill="none" stroke="#975ae3" stroke-width="1.1"/>
<circle cx="456.3" cy="218.0" r="1.15" fill="none" stroke="#975ae3" stroke-width="1.1"/>
<circle cx="456.4" cy="220.7" r="1.15" fill="none" stroke="#975ae3" stroke-width="1.1"/>
<circle cx="509.8" cy="189.7" r="1.15" fill="none" stroke="#975ae3" stroke-width="1.1"/>
<circle cx="514.9" cy="190.8" r="1.15" fill="none" stroke="#975ae3" stroke-width="1.1"/>
<circle cx="520.9" cy="188.7" r="1.15" fill="none" stroke="#975ae3" stroke-width="1.1"/>
<circle cx="529.0" cy="190.8" r="1.15" fill="none" stroke="#975ae3" stroke-width="1.1"/>
<circle cx="525.7" cy="192.7" r="1.15" fill="none" stroke="#975ae3" stroke-width="1.1"/>
<circle cx="539.1" cy="192.7" r="1.15" fill="none" stroke="#975ae3" stroke-width="1.1"/>
<circle cx="543.2" cy="192.7" r="1.15" fill="none" stroke="#975ae3" stroke-width="1.1"/>
<circle cx="545.2" cy="191.4" r="1.15" fill="none" stroke="#975ae3" stroke-width="1.1"/>
<circle cx="505.2" cy="195.8" r="1.15" fill="none" stroke="#975ae3" stroke-width="1.1"/>
<circle cx="520.0" cy="198.5" r="1.15" fill="none" stroke="#975ae3" stroke-width="1.1"/>
<circle cx="535.8" cy="196.8" r="1.15" fill="none" stroke="#975ae3" stroke-width="1.1"/>
<circle cx="506.8" cy="200.8" r="1.15" fill="none" stroke="#975ae3" stroke-width="1.1"/>
<circle cx="539.8" cy="212.9" r="1.15" fill="none" stroke="#975ae3" stroke-width="1.1"/>
<circle cx="544.3" cy="214.7" r="1.15" fill="none" stroke="#975ae3" stroke-width="1.1"/>
<circle cx="545.9" cy="216.7" r="1.15" fill="none" stroke="#975ae3" stroke-width="1.1"/>
<circle cx="549.8" cy="155.0" r="1.15" fill="none" stroke="#975ae3" stroke-width="1.1"/>
<circle cx="571.6" cy="157.3" r="1.15" fill="none" stroke="#975ae3" stroke-width="1.1"/>
<circle cx="564.4" cy="158.0" r="1.15" fill="none" stroke="#975ae3" stroke-width="1.1"/>
<circle cx="560.2" cy="159.7" r="1.15" fill="none" stroke="#975ae3" stroke-width="1.1"/>
<circle cx="565.7" cy="160.6" r="1.15" fill="none" stroke="#975ae3" stroke-width="1.1"/>
<circle cx="565.1" cy="162.6" r="1.15" fill="none" stroke="#975ae3" stroke-width="1.1"/>
<circle cx="570.7" cy="162.8" r="1.15" fill="none" stroke="#975ae3" stroke-width="1.1"/>
<circle cx="576.9" cy="160.6" r="1.15" fill="none" stroke="#975ae3" stroke-width="1.1"/>
<circle cx="584.8" cy="162.6" r="1.15" fill="none" stroke="#975ae3" stroke-width="1.1"/>
<circle cx="582.1" cy="164.5" r="1.15" fill="none" stroke="#975ae3" stroke-width="1.1"/>
<circle cx="576.2" cy="164.9" r="1.15" fill="none" stroke="#975ae3" stroke-width="1.1"/>
<circle cx="587.4" cy="166.8" r="1.15" fill="none" stroke="#975ae3" stroke-width="1.1"/>
<circle cx="592.6" cy="168.9" r="1.15" fill="none" stroke="#975ae3" stroke-width="1.1"/>
<circle cx="551.6" cy="165.5" r="1.15" fill="none" stroke="#975ae3" stroke-width="1.1"/>
<circle cx="555.0" cy="165.9" r="1.15" fill="none" stroke="#975ae3" stroke-width="1.1"/>
<circle cx="572.6" cy="167.6" r="1.15" fill="none" stroke="#975ae3" stroke-width="1.1"/>
<circle cx="561.2" cy="168.1" r="1.15" fill="none" stroke="#975ae3" stroke-width="1.1"/>
<circle cx="562.5" cy="170.4" r="1.15" fill="none" stroke="#975ae3" stroke-width="1.1"/>
<circle cx="576.5" cy="169.8" r="1.15" fill="none" stroke="#975ae3" stroke-width="1.1"/>
<circle cx="567.7" cy="171.7" r="1.15" fill="none" stroke="#975ae3" stroke-width="1.1"/>
<circle cx="559.9" cy="172.8" r="1.15" fill="none" stroke="#975ae3" stroke-width="1.1"/>
<circle cx="580.8" cy="173.1" r="1.15" fill="none" stroke="#975ae3" stroke-width="1.1"/>
<circle cx="589.3" cy="171.7" r="1.15" fill="none" stroke="#975ae3" stroke-width="1.1"/>
<circle cx="562.9" cy="175.9" r="1.15" fill="none" stroke="#975ae3" stroke-width="1.1"/>
<circle cx="563.4" cy="178.6" r="1.15" fill="none" stroke="#975ae3" stroke-width="1.1"/>
<circle cx="557.2" cy="178.6" r="1.15" fill="none" stroke="#975ae3" stroke-width="1.1"/>
<circle cx="550.0" cy="178.6" r="1.15" fill="none" stroke="#975ae3" stroke-width="1.1"/>
<circle cx="580.8" cy="177.6" r="1.15" fill="none" stroke="#975ae3" stroke-width="1.1"/>
<circle cx="586.7" cy="177.6" r="1.15" fill="none" stroke="#975ae3" stroke-width="1.1"/>
<circle cx="589.1" cy="178.6" r="1.15" fill="none" stroke="#975ae3" stroke-width="1.1"/>
<circle cx="578.2" cy="179.6" r="1.15" fill="none" stroke="#975ae3" stroke-width="1.1"/>
<circle cx="569.7" cy="179.9" r="1.15" fill="none" stroke="#975ae3" stroke-width="1.1"/>
<circle cx="582.8" cy="180.9" r="1.15" fill="none" stroke="#975ae3" stroke-width="1.1"/>
<circle cx="559.5" cy="182.0" r="1.15" fill="none" stroke="#975ae3" stroke-width="1.1"/>
<circle cx="592.6" cy="182.5" r="1.15" fill="none" stroke="#975ae3" stroke-width="1.1"/>
<circle cx="550.0" cy="183.8" r="1.15" fill="none" stroke="#975ae3" stroke-width="1.1"/>
<circle cx="552.0" cy="184.9" r="1.15" fill="none" stroke="#975ae3" stroke-width="1.1"/>
<circle cx="554.6" cy="184.2" r="1.15" fill="none" stroke="#975ae3" stroke-width="1.1"/>
<circle cx="550.7" cy="186.8" r="1.15" fill="none" stroke="#975ae3" stroke-width="1.1"/>
<circle cx="554.0" cy="186.8" r="1.15" fill="none" stroke="#975ae3" stroke-width="1.1"/>
<circle cx="558.5" cy="186.8" r="1.15" fill="none" stroke="#975ae3" stroke-width="1.1"/>
<circle cx="574.3" cy="184.6" r="1.15" fill="none" stroke="#975ae3" stroke-width="1.1"/>
<circle cx="608.9" cy="155.8" r="1.15" fill="none" stroke="#975ae3" stroke-width="1.1"/>
<circle cx="595.0" cy="158.4" r="1.15" fill="none" stroke="#975ae3" stroke-width="1.1"/>
<circle cx="597.1" cy="162.3" r="1.15" fill="none" stroke="#975ae3" stroke-width="1.1"/>
<circle cx="600.0" cy="162.8" r="1.15" fill="none" stroke="#975ae3" stroke-width="1.1"/>
<circle cx="603.2" cy="162.3" r="1.15" fill="none" stroke="#975ae3" stroke-width="1.1"/>
<circle cx="606.2" cy="162.8" r="1.15" fill="none" stroke="#975ae3" stroke-width="1.1"/>
<circle cx="601.9" cy="165.9" r="1.15" fill="none" stroke="#975ae3" stroke-width="1.1"/>
<circle cx="605.6" cy="183.8" r="1.15" fill="none" stroke="#975ae3" stroke-width="1.1"/>
<circle cx="548.5" cy="190.8" r="1.15" fill="none" stroke="#975ae3" stroke-width="1.1"/>
<circle cx="553.5" cy="189.1" r="1.15" fill="none" stroke="#975ae3" stroke-width="1.1"/>
<circle cx="559.5" cy="190.8" r="1.15" fill="none" stroke="#975ae3" stroke-width="1.1"/>
<circle cx="556.8" cy="197.6" r="1.15" fill="none" stroke="#975ae3" stroke-width="1.1"/>
<circle cx="548.7" cy="207.0" r="1.15" fill="none" stroke="#975ae3" stroke-width="1.1"/>
<line x1="455.6" y1="189.9" x2="637.9" y2="128.9" stroke="#48cc28" stroke-width="2.8"/>
<rect x="455.6" y="15.5" width="182.29999999999995" height="206.7" fill="none" stroke="#444" stroke-width="1.1"/>
<line x1="637.9" y1="15.5" x2="637.9" y2="222.2" stroke="#7a7a7a" stroke-width="1.5"/>
<line x1="455.1" y1="222.2" x2="638.4" y2="222.2" stroke="#a57be6" stroke-width="1.5"/>
<line x1="455.6" y1="222.2" x2="455.6" y2="220.2" stroke="#333" stroke-width="0.9"/>
<line x1="455.6" y1="15.5" x2="455.6" y2="17.5" stroke="#333" stroke-width="0.9"/>
<line x1="492.1" y1="222.2" x2="492.1" y2="220.2" stroke="#333" stroke-width="0.9"/>
<line x1="492.1" y1="15.5" x2="492.1" y2="17.5" stroke="#333" stroke-width="0.9"/>
<line x1="528.5" y1="222.2" x2="528.5" y2="220.2" stroke="#333" stroke-width="0.9"/>
<line x1="528.5" y1="15.5" x2="528.5" y2="17.5" stroke="#333" stroke-width="0.9"/>
<line x1="565.0" y1="222.2" x2="565.0" y2="220.2" stroke="#333" stroke-width="0.9"/>
<line x1="565.0" y1="15.5" x2="565.0" y2="17.5" stroke="#333" stroke-width="0.9"/>
<line x1="601.4" y1="222.2" x2="601.4" y2="220.2" stroke="#333" stroke-width="0.9"/>
<line x1="601.4" y1="15.5" x2="601.4" y2="17.5" stroke="#333" stroke-width="0.9"/>
<line x1="637.9" y1="222.2" x2="637.9" y2="220.2" stroke="#333" stroke-width="0.9"/>
<line x1="637.9" y1="15.5" x2="637.9" y2="17.5" stroke="#333" stroke-width="0.9"/>
<line x1="455.6" y1="222.2" x2="457.6" y2="222.2" stroke="#333" stroke-width="0.9"/>
<line x1="637.9" y1="222.2" x2="635.9" y2="222.2" stroke="#333" stroke-width="0.9"/>
<text x="448.6" y="230.8" font-size="14" text-anchor="end" >0</text>
<line x1="455.6" y1="176.3" x2="457.6" y2="176.3" stroke="#333" stroke-width="0.9"/>
<line x1="637.9" y1="176.3" x2="635.9" y2="176.3" stroke="#333" stroke-width="0.9"/>
<text x="448.6" y="181.5" font-size="14" text-anchor="end" >1</text>
<line x1="455.6" y1="130.3" x2="457.6" y2="130.3" stroke="#333" stroke-width="0.9"/>
<line x1="637.9" y1="130.3" x2="635.9" y2="130.3" stroke="#333" stroke-width="0.9"/>
<text x="448.6" y="135.5" font-size="14" text-anchor="end" >2</text>
<line x1="455.6" y1="84.4" x2="457.6" y2="84.4" stroke="#333" stroke-width="0.9"/>
<line x1="637.9" y1="84.4" x2="635.9" y2="84.4" stroke="#333" stroke-width="0.9"/>
<text x="448.6" y="89.6" font-size="14" text-anchor="end" >3</text>
<line x1="455.6" y1="38.5" x2="457.6" y2="38.5" stroke="#333" stroke-width="0.9"/>
<line x1="637.9" y1="38.5" x2="635.9" y2="38.5" stroke="#333" stroke-width="0.9"/>
<text x="448.6" y="43.7" font-size="14" text-anchor="end" >4</text>
<text x="457.0" y="241.6" font-size="14" text-anchor="middle" >0</text>
<text x="492.2" y="241.6" font-size="14" text-anchor="middle" >200</text>
<text x="527.5" y="241.6" font-size="14" text-anchor="middle" >400</text>
<text x="562.7" y="241.6" font-size="14" text-anchor="middle" >600</text>
<text x="598.0" y="241.6" font-size="14" text-anchor="middle" >800</text>
<text x="633.9" y="241.6" font-size="14" text-anchor="middle" >1000</text>
<text x="546" y="257.3" font-size="14" text-anchor="middle"><tspan font-style="italic">d</tspan><tspan font-size="9" font-style="italic" dy="2.4">MR</tspan><tspan dy="-2.4">/[mm]</tspan></text>
<text transform="translate(437.2,114.8) rotate(-90)" font-size="14.5" text-anchor="middle"><tspan font-style="italic">E</tspan><tspan font-size="8.8" dy="3">pos</tspan><tspan dy="-3">/[cm]</tspan></text>
<line x1="459.9" y1="25.9" x2="470.7" y2="25.9" stroke="#3fcc22" stroke-width="2.7"/>
<text x="477.3" y="29.7" font-size="12.3" text-anchor="start" >linear fitting</text>
<text x="416.6" y="18.6" font-size="17.5" text-anchor="start" >(c)</text>
<rect x="711.8" y="35.9" width="1.5" height="2.0" fill="#a279e4"/>
<rect x="725.2" y="41.9" width="1.5" height="2.0" fill="#a279e4"/>
<rect x="741.2" y="22.0" width="1.5" height="2.0" fill="#a279e4"/>
<rect x="759.0" y="21.7" width="1.5" height="2.0" fill="#a279e4"/>
<rect x="734.0" y="26.3" width="1.5" height="2.0" fill="#a279e4"/>
<rect x="733.6" y="28.1" width="1.5" height="2.0" fill="#a279e4"/>
<rect x="738.0" y="28.6" width="1.5" height="2.0" fill="#a279e4"/>
<rect x="745.1" y="27.0" width="1.5" height="2.0" fill="#a279e4"/>
<rect x="750.6" y="35.5" width="1.5" height="2.0" fill="#a279e4"/>
<rect x="750.1" y="37.0" width="1.5" height="2.0" fill="#a279e4"/>
<rect x="736.4" y="37.8" width="1.5" height="2.0" fill="#a279e4"/>
<rect x="737.1" y="37.3" width="1.5" height="2.0" fill="#a279e4"/>
<rect x="733.0" y="39.3" width="1.5" height="2.0" fill="#a279e4"/>
<rect x="733.6" y="41.9" width="1.5" height="2.0" fill="#a279e4"/>
<rect x="741.2" y="40.4" width="1.5" height="2.0" fill="#a279e4"/>
<rect x="766.2" y="42.7" width="1.5" height="2.0" fill="#a279e4"/>
<rect x="738.6" y="46.7" width="1.5" height="2.0" fill="#a279e4"/>
<rect x="740.2" y="46.7" width="1.5" height="2.0" fill="#a279e4"/>
<rect x="737.6" y="50.0" width="1.5" height="2.0" fill="#a279e4"/>
<rect x="737.1" y="51.1" width="1.5" height="2.0" fill="#a279e4"/>
<rect x="746.4" y="50.0" width="1.5" height="2.0" fill="#a279e4"/>
<rect x="758.1" y="48.5" width="1.5" height="2.0" fill="#a279e4"/>
<rect x="755.5" y="51.6" width="1.5" height="2.0" fill="#a279e4"/>
<rect x="733.6" y="53.1" width="1.5" height="2.0" fill="#a279e4"/>
<rect x="743.2" y="53.6" width="1.5" height="2.0" fill="#a279e4"/>
<rect x="744.4" y="54.2" width="1.5" height="2.0" fill="#a279e4"/>
<rect x="749.5" y="54.2" width="1.5" height="2.0" fill="#a279e4"/>
<rect x="763.2" y="54.2" width="1.5" height="2.0" fill="#a279e4"/>
<rect x="767.9" y="53.1" width="1.5" height="2.0" fill="#a279e4"/>
<rect x="678.2" y="54.8" width="1.5" height="2.0" fill="#a279e4"/>
<rect x="678.2" y="58.7" width="1.5" height="2.0" fill="#a279e4"/>
<rect x="678.2" y="67.4" width="1.5" height="2.0" fill="#a279e4"/>
<rect x="678.2" y="76.0" width="1.5" height="2.0" fill="#a279e4"/>
<rect x="678.2" y="91.0" width="1.5" height="2.0" fill="#a279e4"/>
<rect x="678.2" y="93.4" width="1.5" height="2.0" fill="#a279e4"/>
<rect x="679.1" y="94.2" width="1.5" height="2.0" fill="#a279e4"/>
<rect x="691.1" y="66.6" width="1.5" height="2.0" fill="#a279e4"/>
<rect x="714.2" y="65.0" width="1.5" height="2.0" fill="#a279e4"/>
<rect x="706.0" y="71.6" width="1.5" height="2.0" fill="#a279e4"/>
<rect x="712.6" y="73.2" width="1.5" height="2.0" fill="#a279e4"/>
<rect x="714.0" y="72.6" width="1.5" height="2.0" fill="#a279e4"/>
<rect x="714.8" y="70.5" width="1.5" height="2.0" fill="#a279e4"/>
<rect x="717.5" y="71.0" width="1.5" height="2.0" fill="#a279e4"/>
<rect x="719.5" y="72.6" width="1.5" height="2.0" fill="#a279e4"/>
<rect x="724.1" y="67.9" width="1.5" height="2.0" fill="#a279e4"/>
<rect x="728.5" y="68.5" width="1.5" height="2.0" fill="#a279e4"/>
<rect x="725.8" y="70.5" width="1.5" height="2.0" fill="#a279e4"/>
<rect x="730.5" y="56.8" width="1.5" height="2.0" fill="#a279e4"/>
<rect x="715.9" y="77.3" width="1.5" height="2.0" fill="#a279e4"/>
<rect x="717.9" y="80.0" width="1.5" height="2.0" fill="#a279e4"/>
<rect x="698.0" y="83.6" width="1.5" height="2.0" fill="#a279e4"/>
<rect x="724.1" y="84.7" width="1.5" height="2.0" fill="#a279e4"/>
<rect x="728.5" y="81.1" width="1.5" height="2.0" fill="#a279e4"/>
<rect x="730.0" y="77.3" width="1.5" height="2.0" fill="#a279e4"/>
<rect x="718.1" y="86.3" width="1.5" height="2.0" fill="#a279e4"/>
<rect x="710.0" y="87.9" width="1.5" height="2.0" fill="#a279e4"/>
<rect x="708.5" y="89.9" width="1.5" height="2.0" fill="#a279e4"/>
<rect x="710.6" y="92.1" width="1.5" height="2.0" fill="#a279e4"/>
<rect x="726.9" y="91.5" width="1.5" height="2.0" fill="#a279e4"/>
<rect x="725.2" y="93.7" width="1.5" height="2.0" fill="#a279e4"/>
<rect x="735.4" y="77.8" width="1.5" height="2.0" fill="#a279e4"/>
<rect x="748.7" y="82.6" width="1.5" height="2.0" fill="#a279e4"/>
<rect x="734.8" y="80.2" width="1.5" height="2.0" fill="#a279e4"/>
<rect x="745.6" y="73.9" width="1.5" height="2.0" fill="#a279e4"/>
<rect x="735.5" y="86.8" width="1.5" height="2.0" fill="#a279e4"/>
<rect x="747.0" y="77.3" width="1.5" height="2.0" fill="#a279e4"/>
<rect x="752.0" y="74.6" width="1.5" height="2.0" fill="#a279e4"/>
<rect x="742.2" y="81.3" width="1.5" height="2.0" fill="#a279e4"/>
<rect x="758.2" y="81.4" width="1.5" height="2.0" fill="#a279e4"/>
<rect x="738.0" y="86.0" width="1.5" height="2.0" fill="#a279e4"/>
<rect x="743.3" y="79.1" width="1.5" height="2.0" fill="#a279e4"/>
<rect x="740.7" y="80.2" width="1.5" height="2.0" fill="#a279e4"/>
<rect x="744.4" y="76.1" width="1.5" height="2.0" fill="#a279e4"/>
<rect x="749.4" y="78.7" width="1.5" height="2.0" fill="#a279e4"/>
<rect x="732.0" y="76.1" width="1.5" height="2.0" fill="#a279e4"/>
<rect x="734.2" y="80.8" width="1.5" height="2.0" fill="#a279e4"/>
<rect x="733.9" y="79.8" width="1.5" height="2.0" fill="#a279e4"/>
<rect x="738.1" y="78.7" width="1.5" height="2.0" fill="#a279e4"/>
<rect x="762.6" y="80.1" width="1.5" height="2.0" fill="#a279e4"/>
<rect x="747.8" y="87.0" width="1.5" height="2.0" fill="#a279e4"/>
<rect x="741.0" y="76.3" width="1.5" height="2.0" fill="#a279e4"/>
<rect x="742.2" y="77.9" width="1.5" height="2.0" fill="#a279e4"/>
<rect x="743.4" y="85.3" width="1.5" height="2.0" fill="#a279e4"/>
<rect x="746.1" y="84.2" width="1.5" height="2.0" fill="#a279e4"/>
<rect x="754.0" y="82.6" width="1.5" height="2.0" fill="#a279e4"/>
<rect x="746.9" y="79.8" width="1.5" height="2.0" fill="#a279e4"/>
<rect x="748.5" y="83.1" width="1.5" height="2.0" fill="#a279e4"/>
<rect x="748.8" y="80.5" width="1.5" height="2.0" fill="#a279e4"/>
<rect x="750.4" y="76.5" width="1.5" height="2.0" fill="#a279e4"/>
<rect x="743.6" y="84.1" width="1.5" height="2.0" fill="#a279e4"/>
<rect x="747.4" y="77.3" width="1.5" height="2.0" fill="#a279e4"/>
<rect x="752.6" y="81.9" width="1.5" height="2.0" fill="#a279e4"/>
<rect x="746.1" y="77.1" width="1.5" height="2.0" fill="#a279e4"/>
<rect x="744.5" y="78.7" width="1.5" height="2.0" fill="#a279e4"/>
<rect x="743.9" y="83.1" width="1.5" height="2.0" fill="#a279e4"/>
<rect x="736.7" y="82.0" width="1.5" height="2.0" fill="#a279e4"/>
<rect x="746.3" y="71.7" width="1.5" height="2.0" fill="#a279e4"/>
<rect x="748.6" y="74.2" width="1.5" height="2.0" fill="#a279e4"/>
<rect x="747.4" y="76.1" width="1.5" height="2.0" fill="#a279e4"/>
<rect x="743.9" y="75.7" width="1.5" height="2.0" fill="#a279e4"/>
<rect x="753.4" y="81.6" width="1.5" height="2.0" fill="#a279e4"/>
<rect x="738.6" y="69.3" width="1.5" height="2.0" fill="#a279e4"/>
<rect x="744.2" y="74.6" width="1.5" height="2.0" fill="#a279e4"/>
<rect x="748.0" y="86.0" width="1.5" height="2.0" fill="#a279e4"/>
<rect x="757.4" y="70.3" width="1.5" height="2.0" fill="#a279e4"/>
<rect x="743.8" y="75.8" width="1.5" height="2.0" fill="#a279e4"/>
<rect x="743.5" y="84.6" width="1.5" height="2.0" fill="#a279e4"/>
<rect x="742.1" y="77.8" width="1.5" height="2.0" fill="#a279e4"/>
<rect x="749.5" y="76.0" width="1.5" height="2.0" fill="#a279e4"/>
<rect x="743.1" y="72.6" width="1.5" height="2.0" fill="#a279e4"/>
<rect x="738.2" y="75.6" width="1.5" height="2.0" fill="#a279e4"/>
<rect x="749.4" y="81.4" width="1.5" height="2.0" fill="#a279e4"/>
<rect x="732.0" y="84.7" width="1.5" height="2.0" fill="#a279e4"/>
<rect x="744.2" y="77.0" width="1.5" height="2.0" fill="#a279e4"/>
<rect x="752.1" y="85.3" width="1.5" height="2.0" fill="#a279e4"/>
<rect x="742.8" y="76.4" width="1.5" height="2.0" fill="#a279e4"/>
<rect x="741.8" y="92.6" width="1.5" height="2.0" fill="#a279e4"/>
<rect x="747.6" y="67.4" width="1.5" height="2.0" fill="#a279e4"/>
<rect x="748.8" y="84.8" width="1.5" height="2.0" fill="#a279e4"/>
<rect x="740.3" y="78.7" width="1.5" height="2.0" fill="#a279e4"/>
<rect x="757.7" y="76.5" width="1.5" height="2.0" fill="#a279e4"/>
<rect x="743.4" y="71.5" width="1.5" height="2.0" fill="#a279e4"/>
<rect x="742.3" y="69.8" width="1.5" height="2.0" fill="#a279e4"/>
<rect x="738.6" y="82.4" width="1.5" height="2.0" fill="#a279e4"/>
<rect x="747.1" y="72.2" width="1.5" height="2.0" fill="#a279e4"/>
<rect x="746.7" y="78.2" width="1.5" height="2.0" fill="#a279e4"/>
<rect x="731.8" y="83.7" width="1.5" height="2.0" fill="#a279e4"/>
<rect x="739.1" y="82.7" width="1.5" height="2.0" fill="#a279e4"/>
<rect x="746.3" y="81.7" width="1.5" height="2.0" fill="#a279e4"/>
<rect x="747.5" y="79.4" width="1.5" height="2.0" fill="#a279e4"/>
<rect x="740.8" y="79.2" width="1.5" height="2.0" fill="#a279e4"/>
<rect x="745.3" y="75.2" width="1.5" height="2.0" fill="#a279e4"/>
<rect x="739.9" y="81.1" width="1.5" height="2.0" fill="#a279e4"/>
<rect x="734.6" y="71.2" width="1.5" height="2.0" fill="#a279e4"/>
<rect x="751.5" y="80.8" width="1.5" height="2.0" fill="#a279e4"/>
<rect x="739.9" y="86.5" width="1.5" height="2.0" fill="#a279e4"/>
<rect x="743.8" y="78.7" width="1.5" height="2.0" fill="#a279e4"/>
<rect x="755.9" y="78.5" width="1.5" height="2.0" fill="#a279e4"/>
<rect x="738.1" y="93.0" width="1.5" height="2.0" fill="#a279e4"/>
<rect x="751.2" y="78.8" width="1.5" height="2.0" fill="#a279e4"/>
<rect x="733.1" y="78.9" width="1.5" height="2.0" fill="#a279e4"/>
<rect x="733.1" y="61.1" width="1.5" height="2.0" fill="#a279e4"/>
<rect x="749.5" y="76.8" width="1.5" height="2.0" fill="#a279e4"/>
<rect x="741.7" y="91.4" width="1.5" height="2.0" fill="#a279e4"/>
<rect x="742.0" y="88.2" width="1.5" height="2.0" fill="#a279e4"/>
<rect x="746.3" y="91.4" width="1.5" height="2.0" fill="#a279e4"/>
<rect x="737.3" y="73.3" width="1.5" height="2.0" fill="#a279e4"/>
<rect x="752.6" y="86.2" width="1.5" height="2.0" fill="#a279e4"/>
<rect x="733.5" y="75.1" width="1.5" height="2.0" fill="#a279e4"/>
<rect x="747.9" y="85.2" width="1.5" height="2.0" fill="#a279e4"/>
<rect x="738.6" y="83.6" width="1.5" height="2.0" fill="#a279e4"/>
<rect x="735.6" y="83.5" width="1.5" height="2.0" fill="#a279e4"/>
<rect x="750.3" y="76.1" width="1.5" height="2.0" fill="#a279e4"/>
<rect x="755.1" y="80.3" width="1.5" height="2.0" fill="#a279e4"/>
<rect x="742.0" y="85.1" width="1.5" height="2.0" fill="#a279e4"/>
<rect x="745.9" y="87.1" width="1.5" height="2.0" fill="#a279e4"/>
<rect x="730.7" y="69.1" width="1.5" height="2.0" fill="#a279e4"/>
<rect x="760.2" y="67.9" width="1.5" height="2.0" fill="#a279e4"/>
<rect x="759.2" y="73.1" width="1.5" height="2.0" fill="#a279e4"/>
<rect x="740.4" y="74.6" width="1.5" height="2.0" fill="#a279e4"/>
<rect x="743.6" y="85.3" width="1.5" height="2.0" fill="#a279e4"/>
<rect x="731.5" y="88.7" width="1.5" height="2.0" fill="#a279e4"/>
<rect x="747.0" y="74.0" width="1.5" height="2.0" fill="#a279e4"/>
<rect x="742.6" y="62.6" width="1.5" height="2.0" fill="#a279e4"/>
<rect x="748.6" y="70.1" width="1.5" height="2.0" fill="#a279e4"/>
<rect x="758.2" y="82.7" width="1.5" height="2.0" fill="#a279e4"/>
<rect x="728.9" y="68.6" width="1.5" height="2.0" fill="#a279e4"/>
<rect x="740.7" y="63.6" width="1.5" height="2.0" fill="#a279e4"/>
<rect x="750.1" y="66.3" width="1.5" height="2.0" fill="#a279e4"/>
<rect x="754.0" y="94.0" width="1.5" height="2.0" fill="#a279e4"/>
<rect x="753.6" y="81.4" width="1.5" height="2.0" fill="#a279e4"/>
<rect x="740.1" y="79.3" width="1.5" height="2.0" fill="#a279e4"/>
<rect x="754.1" y="67.4" width="1.5" height="2.0" fill="#a279e4"/>
<rect x="756.3" y="90.3" width="1.5" height="2.0" fill="#a279e4"/>
<rect x="741.6" y="93.5" width="1.5" height="2.0" fill="#a279e4"/>
<rect x="746.1" y="70.0" width="1.5" height="2.0" fill="#a279e4"/>
<rect x="740.0" y="73.2" width="1.5" height="2.0" fill="#a279e4"/>
<rect x="749.1" y="66.3" width="1.5" height="2.0" fill="#a279e4"/>
<rect x="739.5" y="82.8" width="1.5" height="2.0" fill="#a279e4"/>
<rect x="740.0" y="59.7" width="1.5" height="2.0" fill="#a279e4"/>
<rect x="757.0" y="76.5" width="1.5" height="2.0" fill="#a279e4"/>
<rect x="749.1" y="74.3" width="1.5" height="2.0" fill="#a279e4"/>
<rect x="748.9" y="77.2" width="1.5" height="2.0" fill="#a279e4"/>
<rect x="743.9" y="86.6" width="1.5" height="2.0" fill="#a279e4"/>
<rect x="741.1" y="60.6" width="1.5" height="2.0" fill="#a279e4"/>
<rect x="751.9" y="74.8" width="1.5" height="2.0" fill="#a279e4"/>
<rect x="745.0" y="74.8" width="1.5" height="2.0" fill="#a279e4"/>
<rect x="750.2" y="81.2" width="1.5" height="2.0" fill="#a279e4"/>
<rect x="748.8" y="73.2" width="1.5" height="2.0" fill="#a279e4"/>
<rect x="740.1" y="82.4" width="1.5" height="2.0" fill="#a279e4"/>
<rect x="737.8" y="84.9" width="1.5" height="2.0" fill="#a279e4"/>
<rect x="755.2" y="93.7" width="1.5" height="2.0" fill="#a279e4"/>
<rect x="744.6" y="80.9" width="1.5" height="2.0" fill="#a279e4"/>
<rect x="741.3" y="74.5" width="1.5" height="2.0" fill="#a279e4"/>
<rect x="757.4" y="74.7" width="1.5" height="2.0" fill="#a279e4"/>
<rect x="755.9" y="64.7" width="1.5" height="2.0" fill="#a279e4"/>
<rect x="756.0" y="57.8" width="1.5" height="2.0" fill="#a279e4"/>
<rect x="754.1" y="67.1" width="1.5" height="2.0" fill="#a279e4"/>
<rect x="748.0" y="66.9" width="1.5" height="2.0" fill="#a279e4"/>
<rect x="747.1" y="57.0" width="1.5" height="2.0" fill="#a279e4"/>
<rect x="759.4" y="63.0" width="1.5" height="2.0" fill="#a279e4"/>
<rect x="767.2" y="64.9" width="1.5" height="2.0" fill="#a279e4"/>
<rect x="762.2" y="58.3" width="1.5" height="2.0" fill="#a279e4"/>
<rect x="746.0" y="68.9" width="1.5" height="2.0" fill="#a279e4"/>
<rect x="750.3" y="57.9" width="1.5" height="2.0" fill="#a279e4"/>
<rect x="766.1" y="67.4" width="1.5" height="2.0" fill="#a279e4"/>
<rect x="764.3" y="63.6" width="1.5" height="2.0" fill="#a279e4"/>
<rect x="754.1" y="64.4" width="1.5" height="2.0" fill="#a279e4"/>
<rect x="754.6" y="70.1" width="1.5" height="2.0" fill="#a279e4"/>
<rect x="749.8" y="67.5" width="1.5" height="2.0" fill="#a279e4"/>
<rect x="760.4" y="52.6" width="1.5" height="2.0" fill="#a279e4"/>
<rect x="776.2" y="63.4" width="1.5" height="2.0" fill="#a279e4"/>
<rect x="744.7" y="63.7" width="1.5" height="2.0" fill="#a279e4"/>
<rect x="750.3" y="53.0" width="1.5" height="2.0" fill="#a279e4"/>
<rect x="760.9" y="65.2" width="1.5" height="2.0" fill="#a279e4"/>
<rect x="763.5" y="59.5" width="1.5" height="2.0" fill="#a279e4"/>
<rect x="745.4" y="64.3" width="1.5" height="2.0" fill="#a279e4"/>
<rect x="755.2" y="61.8" width="1.5" height="2.0" fill="#a279e4"/>
<rect x="757.8" y="63.4" width="1.5" height="2.0" fill="#a279e4"/>
<rect x="758.2" y="64.6" width="1.5" height="2.0" fill="#a279e4"/>
<rect x="750.6" y="55.1" width="1.5" height="2.0" fill="#a279e4"/>
<rect x="759.4" y="60.0" width="1.5" height="2.0" fill="#a279e4"/>
<rect x="745.6" y="62.7" width="1.5" height="2.0" fill="#a279e4"/>
<rect x="762.7" y="67.7" width="1.5" height="2.0" fill="#a279e4"/>
<rect x="764.7" y="63.7" width="1.5" height="2.0" fill="#a279e4"/>
<rect x="759.7" y="62.5" width="1.5" height="2.0" fill="#a279e4"/>
<rect x="758.4" y="56.5" width="1.5" height="2.0" fill="#a279e4"/>
<rect x="754.0" y="54.9" width="1.5" height="2.0" fill="#a279e4"/>
<rect x="751.4" y="66.1" width="1.5" height="2.0" fill="#a279e4"/>
<rect x="761.9" y="66.7" width="1.5" height="2.0" fill="#a279e4"/>
<rect x="754.3" y="57.9" width="1.5" height="2.0" fill="#a279e4"/>
<rect x="765.5" y="69.9" width="1.5" height="2.0" fill="#a279e4"/>
<rect x="760.5" y="53.5" width="1.5" height="2.0" fill="#a279e4"/>
<rect x="765.3" y="63.0" width="1.5" height="2.0" fill="#a279e4"/>
<rect x="752.7" y="63.3" width="1.5" height="2.0" fill="#a279e4"/>
<rect x="748.7" y="63.1" width="1.5" height="2.0" fill="#a279e4"/>
<rect x="755.6" y="62.6" width="1.5" height="2.0" fill="#a279e4"/>
<rect x="765.3" y="63.0" width="1.5" height="2.0" fill="#a279e4"/>
<rect x="746.6" y="57.2" width="1.5" height="2.0" fill="#a279e4"/>
<rect x="749.3" y="63.9" width="1.5" height="2.0" fill="#a279e4"/>
<rect x="756.0" y="63.5" width="1.5" height="2.0" fill="#a279e4"/>
<rect x="749.8" y="63.0" width="1.5" height="2.0" fill="#a279e4"/>
<rect x="772.3" y="64.6" width="1.5" height="2.0" fill="#a279e4"/>
<rect x="755.9" y="56.9" width="1.5" height="2.0" fill="#a279e4"/>
<rect x="762.2" y="58.5" width="1.5" height="2.0" fill="#a279e4"/>
<rect x="763.0" y="70.7" width="1.5" height="2.0" fill="#a279e4"/>
<rect x="750.8" y="61.3" width="1.5" height="2.0" fill="#a279e4"/>
<rect x="760.4" y="56.1" width="1.5" height="2.0" fill="#a279e4"/>
<rect x="760.2" y="63.0" width="1.5" height="2.0" fill="#a279e4"/>
<rect x="757.2" y="62.9" width="1.5" height="2.0" fill="#a279e4"/>
<rect x="758.6" y="58.9" width="1.5" height="2.0" fill="#a279e4"/>
<rect x="754.5" y="65.6" width="1.5" height="2.0" fill="#a279e4"/>
<rect x="750.9" y="57.0" width="1.5" height="2.0" fill="#a279e4"/>
<rect x="765.9" y="57.5" width="1.5" height="2.0" fill="#a279e4"/>
<rect x="763.0" y="58.2" width="1.5" height="2.0" fill="#a279e4"/>
<rect x="756.9" y="58.9" width="1.5" height="2.0" fill="#a279e4"/>
<rect x="749.5" y="62.8" width="1.5" height="2.0" fill="#a279e4"/>
<rect x="739.7" y="50.7" width="1.5" height="2.0" fill="#a279e4"/>
<rect x="750.0" y="56.7" width="1.5" height="2.0" fill="#a279e4"/>
<rect x="747.7" y="48.9" width="1.5" height="2.0" fill="#a279e4"/>
<rect x="754.5" y="50.7" width="1.5" height="2.0" fill="#a279e4"/>
<rect x="750.7" y="45.4" width="1.5" height="2.0" fill="#a279e4"/>
<rect x="737.1" y="55.5" width="1.5" height="2.0" fill="#a279e4"/>
<rect x="744.1" y="44.7" width="1.5" height="2.0" fill="#a279e4"/>
<rect x="732.0" y="54.1" width="1.5" height="2.0" fill="#a279e4"/>
<rect x="738.5" y="55.7" width="1.5" height="2.0" fill="#a279e4"/>
<rect x="759.6" y="43.1" width="1.5" height="2.0" fill="#a279e4"/>
<rect x="747.8" y="55.4" width="1.5" height="2.0" fill="#a279e4"/>
<rect x="742.4" y="47.5" width="1.5" height="2.0" fill="#a279e4"/>
<rect x="744.7" y="45.8" width="1.5" height="2.0" fill="#a279e4"/>
<rect x="748.1" y="52.4" width="1.5" height="2.0" fill="#a279e4"/>
<rect x="745.8" y="52.7" width="1.5" height="2.0" fill="#a279e4"/>
<rect x="761.1" y="94.3" width="1.5" height="2.0" fill="#a279e4"/>
<rect x="737.2" y="63.3" width="1.5" height="2.0" fill="#a279e4"/>
<rect x="772.3" y="49.9" width="1.5" height="2.0" fill="#a279e4"/>
<rect x="732.9" y="71.5" width="1.5" height="2.0" fill="#a279e4"/>
<rect x="764.7" y="71.7" width="1.5" height="2.0" fill="#a279e4"/>
<rect x="761.1" y="86.3" width="1.5" height="2.0" fill="#a279e4"/>
<rect x="730.7" y="90.1" width="1.5" height="2.0" fill="#a279e4"/>
<rect x="729.1" y="69.4" width="1.5" height="2.0" fill="#a279e4"/>
<rect x="752.7" y="68.6" width="1.5" height="2.0" fill="#a279e4"/>
<rect x="734.5" y="86.5" width="1.5" height="2.0" fill="#a279e4"/>
<rect x="737.3" y="55.9" width="1.5" height="2.0" fill="#a279e4"/>
<rect x="776.2" y="51.9" width="1.5" height="2.0" fill="#a279e4"/>
<rect x="731.9" y="92.2" width="1.5" height="2.0" fill="#a279e4"/>
<rect x="774.3" y="73.6" width="1.5" height="2.0" fill="#a279e4"/>
<rect x="765.0" y="79.9" width="1.5" height="2.0" fill="#a279e4"/>
<rect x="750.3" y="71.1" width="1.5" height="2.0" fill="#a279e4"/>
<rect x="748.5" y="67.1" width="1.5" height="2.0" fill="#a279e4"/>
<rect x="727.9" y="62.4" width="1.5" height="2.0" fill="#a279e4"/>
<rect x="769.0" y="86.6" width="1.5" height="2.0" fill="#a279e4"/>
<rect x="749.7" y="60.6" width="1.5" height="2.0" fill="#a279e4"/>
<rect x="741.5" y="142.4" width="1.5" height="2.0" fill="#a279e4"/>
<rect x="751.4" y="142.9" width="1.5" height="2.0" fill="#a279e4"/>
<rect x="747.5" y="164.3" width="1.5" height="2.0" fill="#a279e4"/>
<rect x="753.0" y="166.5" width="1.5" height="2.0" fill="#a279e4"/>
<rect x="756.5" y="167.8" width="1.5" height="2.0" fill="#a279e4"/>
<rect x="757.4" y="169.7" width="1.5" height="2.0" fill="#a279e4"/>
<rect x="760.1" y="165.9" width="1.5" height="2.0" fill="#a279e4"/>
<rect x="762.4" y="166.7" width="1.5" height="2.0" fill="#a279e4"/>
<rect x="765.1" y="162.7" width="1.5" height="2.0" fill="#a279e4"/>
<rect x="766.5" y="170.1" width="1.5" height="2.0" fill="#a279e4"/>
<rect x="745.0" y="177.2" width="1.5" height="2.0" fill="#a279e4"/>
<rect x="735.0" y="179.6" width="1.5" height="2.0" fill="#a279e4"/>
<rect x="738.1" y="179.6" width="1.5" height="2.0" fill="#a279e4"/>
<rect x="742.9" y="180.1" width="1.5" height="2.0" fill="#a279e4"/>
<rect x="744.5" y="180.7" width="1.5" height="2.0" fill="#a279e4"/>
<rect x="746.6" y="179.6" width="1.5" height="2.0" fill="#a279e4"/>
<rect x="740.8" y="182.7" width="1.5" height="2.0" fill="#a279e4"/>
<rect x="774.6" y="178.8" width="1.5" height="2.0" fill="#a279e4"/>
<rect x="761.2" y="182.3" width="1.5" height="2.0" fill="#a279e4"/>
<rect x="763.6" y="181.2" width="1.5" height="2.0" fill="#a279e4"/>
<rect x="766.0" y="181.6" width="1.5" height="2.0" fill="#a279e4"/>
<rect x="752.5" y="182.7" width="1.5" height="2.0" fill="#a279e4"/>
<rect x="678.2" y="185.9" width="1.5" height="2.0" fill="#a279e4"/>
<rect x="678.2" y="203.2" width="1.5" height="2.0" fill="#a279e4"/>
<rect x="678.2" y="204.9" width="1.5" height="2.0" fill="#a279e4"/>
<rect x="678.2" y="220.5" width="1.5" height="2.0" fill="#a279e4"/>
<rect x="678.5" y="222.2" width="1.5" height="2.0" fill="#a279e4"/>
<rect x="709.9" y="184.6" width="1.5" height="2.0" fill="#a279e4"/>
<rect x="708.1" y="204.9" width="1.5" height="2.0" fill="#a279e4"/>
<rect x="714.5" y="206.5" width="1.5" height="2.0" fill="#a279e4"/>
<rect x="719.5" y="203.2" width="1.5" height="2.0" fill="#a279e4"/>
<rect x="724.4" y="202.1" width="1.5" height="2.0" fill="#a279e4"/>
<rect x="725.5" y="208.2" width="1.5" height="2.0" fill="#a279e4"/>
<rect x="728.2" y="205.7" width="1.5" height="2.0" fill="#a279e4"/>
<rect x="690.9" y="218.1" width="1.5" height="2.0" fill="#a279e4"/>
<rect x="705.8" y="220.9" width="1.5" height="2.0" fill="#a279e4"/>
<rect x="698.4" y="222.9" width="1.5" height="2.0" fill="#a279e4"/>
<rect x="710.6" y="222.2" width="1.5" height="2.0" fill="#a279e4"/>
<rect x="713.5" y="221.4" width="1.5" height="2.0" fill="#a279e4"/>
<rect x="716.5" y="220.9" width="1.5" height="2.0" fill="#a279e4"/>
<rect x="718.5" y="221.9" width="1.5" height="2.0" fill="#a279e4"/>
<rect x="717.2" y="217.6" width="1.5" height="2.0" fill="#a279e4"/>
<rect x="725.5" y="220.9" width="1.5" height="2.0" fill="#a279e4"/>
<rect x="728.0" y="221.4" width="1.5" height="2.0" fill="#a279e4"/>
<rect x="740.1" y="218.0" width="1.5" height="2.0" fill="#a279e4"/>
<rect x="745.9" y="217.4" width="1.5" height="2.0" fill="#a279e4"/>
<rect x="750.4" y="202.6" width="1.5" height="2.0" fill="#a279e4"/>
<rect x="744.8" y="218.5" width="1.5" height="2.0" fill="#a279e4"/>
<rect x="733.5" y="214.5" width="1.5" height="2.0" fill="#a279e4"/>
<rect x="736.2" y="212.3" width="1.5" height="2.0" fill="#a279e4"/>
<rect x="748.6" y="195.2" width="1.5" height="2.0" fill="#a279e4"/>
<rect x="743.0" y="220.8" width="1.5" height="2.0" fill="#a279e4"/>
<rect x="738.6" y="209.5" width="1.5" height="2.0" fill="#a279e4"/>
<rect x="737.6" y="220.2" width="1.5" height="2.0" fill="#a279e4"/>
<rect x="731.3" y="205.9" width="1.5" height="2.0" fill="#a279e4"/>
<rect x="751.5" y="212.3" width="1.5" height="2.0" fill="#a279e4"/>
<rect x="736.4" y="221.6" width="1.5" height="2.0" fill="#a279e4"/>
<rect x="732.1" y="210.2" width="1.5" height="2.0" fill="#a279e4"/>
<rect x="749.5" y="215.2" width="1.5" height="2.0" fill="#a279e4"/>
<rect x="746.1" y="222.0" width="1.5" height="2.0" fill="#a279e4"/>
<rect x="743.7" y="214.7" width="1.5" height="2.0" fill="#a279e4"/>
<rect x="751.0" y="218.3" width="1.5" height="2.0" fill="#a279e4"/>
<rect x="740.0" y="209.6" width="1.5" height="2.0" fill="#a279e4"/>
<rect x="740.1" y="215.8" width="1.5" height="2.0" fill="#a279e4"/>
<rect x="751.9" y="212.3" width="1.5" height="2.0" fill="#a279e4"/>
<rect x="740.0" y="191.0" width="1.5" height="2.0" fill="#a279e4"/>
<rect x="761.8" y="213.8" width="1.5" height="2.0" fill="#a279e4"/>
<rect x="735.3" y="221.4" width="1.5" height="2.0" fill="#a279e4"/>
<rect x="724.7" y="209.9" width="1.5" height="2.0" fill="#a279e4"/>
<rect x="744.8" y="222.9" width="1.5" height="2.0" fill="#a279e4"/>
<rect x="738.3" y="220.8" width="1.5" height="2.0" fill="#a279e4"/>
<rect x="744.7" y="220.2" width="1.5" height="2.0" fill="#a279e4"/>
<rect x="749.6" y="217.3" width="1.5" height="2.0" fill="#a279e4"/>
<rect x="746.4" y="213.0" width="1.5" height="2.0" fill="#a279e4"/>
<rect x="738.7" y="197.6" width="1.5" height="2.0" fill="#a279e4"/>
<rect x="742.6" y="194.0" width="1.5" height="2.0" fill="#a279e4"/>
<rect x="734.4" y="211.7" width="1.5" height="2.0" fill="#a279e4"/>
<rect x="734.1" y="211.5" width="1.5" height="2.0" fill="#a279e4"/>
<rect x="747.6" y="222.9" width="1.5" height="2.0" fill="#a279e4"/>
<rect x="741.4" y="218.1" width="1.5" height="2.0" fill="#a279e4"/>
<rect x="741.8" y="217.5" width="1.5" height="2.0" fill="#a279e4"/>
<rect x="744.2" y="209.8" width="1.5" height="2.0" fill="#a279e4"/>
<rect x="743.7" y="201.1" width="1.5" height="2.0" fill="#a279e4"/>
<rect x="749.3" y="212.8" width="1.5" height="2.0" fill="#a279e4"/>
<rect x="747.4" y="215.7" width="1.5" height="2.0" fill="#a279e4"/>
<rect x="739.8" y="220.2" width="1.5" height="2.0" fill="#a279e4"/>
<rect x="753.0" y="215.9" width="1.5" height="2.0" fill="#a279e4"/>
<rect x="741.4" y="221.7" width="1.5" height="2.0" fill="#a279e4"/>
<rect x="738.0" y="216.0" width="1.5" height="2.0" fill="#a279e4"/>
<rect x="743.9" y="217.8" width="1.5" height="2.0" fill="#a279e4"/>
<rect x="744.5" y="222.9" width="1.5" height="2.0" fill="#a279e4"/>
<rect x="736.8" y="210.3" width="1.5" height="2.0" fill="#a279e4"/>
<rect x="736.8" y="195.2" width="1.5" height="2.0" fill="#a279e4"/>
<rect x="749.7" y="219.8" width="1.5" height="2.0" fill="#a279e4"/>
<rect x="742.6" y="214.7" width="1.5" height="2.0" fill="#a279e4"/>
<rect x="739.5" y="197.0" width="1.5" height="2.0" fill="#a279e4"/>
<rect x="746.0" y="222.9" width="1.5" height="2.0" fill="#a279e4"/>
<rect x="751.6" y="208.8" width="1.5" height="2.0" fill="#a279e4"/>
<rect x="739.3" y="196.5" width="1.5" height="2.0" fill="#a279e4"/>
<rect x="747.2" y="217.9" width="1.5" height="2.0" fill="#a279e4"/>
<rect x="735.1" y="213.0" width="1.5" height="2.0" fill="#a279e4"/>
<rect x="749.7" y="217.0" width="1.5" height="2.0" fill="#a279e4"/>
<rect x="744.7" y="211.9" width="1.5" height="2.0" fill="#a279e4"/>
<rect x="746.1" y="215.8" width="1.5" height="2.0" fill="#a279e4"/>
<rect x="748.6" y="218.0" width="1.5" height="2.0" fill="#a279e4"/>
<rect x="737.0" y="222.4" width="1.5" height="2.0" fill="#a279e4"/>
<rect x="752.3" y="208.4" width="1.5" height="2.0" fill="#a279e4"/>
<rect x="749.1" y="189.6" width="1.5" height="2.0" fill="#a279e4"/>
<rect x="739.0" y="208.0" width="1.5" height="2.0" fill="#a279e4"/>
<rect x="740.3" y="222.9" width="1.5" height="2.0" fill="#a279e4"/>
<rect x="746.8" y="209.9" width="1.5" height="2.0" fill="#a279e4"/>
<rect x="736.1" y="216.8" width="1.5" height="2.0" fill="#a279e4"/>
<rect x="739.0" y="221.4" width="1.5" height="2.0" fill="#a279e4"/>
<rect x="753.6" y="211.2" width="1.5" height="2.0" fill="#a279e4"/>
<rect x="739.9" y="212.3" width="1.5" height="2.0" fill="#a279e4"/>
<rect x="735.1" y="220.6" width="1.5" height="2.0" fill="#a279e4"/>
<rect x="748.2" y="201.6" width="1.5" height="2.0" fill="#a279e4"/>
<rect x="741.6" y="221.4" width="1.5" height="2.0" fill="#a279e4"/>
<rect x="742.2" y="216.1" width="1.5" height="2.0" fill="#a279e4"/>
<rect x="745.5" y="211.1" width="1.5" height="2.0" fill="#a279e4"/>
<rect x="747.7" y="213.5" width="1.5" height="2.0" fill="#a279e4"/>
<rect x="748.5" y="219.6" width="1.5" height="2.0" fill="#a279e4"/>
<rect x="744.7" y="217.8" width="1.5" height="2.0" fill="#a279e4"/>
<rect x="735.9" y="216.9" width="1.5" height="2.0" fill="#a279e4"/>
<rect x="738.7" y="216.7" width="1.5" height="2.0" fill="#a279e4"/>
<rect x="744.1" y="214.3" width="1.5" height="2.0" fill="#a279e4"/>
<rect x="752.7" y="221.3" width="1.5" height="2.0" fill="#a279e4"/>
<rect x="741.2" y="210.3" width="1.5" height="2.0" fill="#a279e4"/>
<rect x="751.8" y="211.3" width="1.5" height="2.0" fill="#a279e4"/>
<rect x="735.4" y="221.0" width="1.5" height="2.0" fill="#a279e4"/>
<rect x="750.3" y="222.5" width="1.5" height="2.0" fill="#a279e4"/>
<rect x="755.7" y="213.6" width="1.5" height="2.0" fill="#a279e4"/>
<rect x="750.6" y="214.6" width="1.5" height="2.0" fill="#a279e4"/>
<rect x="743.1" y="207.8" width="1.5" height="2.0" fill="#a279e4"/>
<rect x="740.1" y="214.2" width="1.5" height="2.0" fill="#a279e4"/>
<rect x="740.1" y="220.4" width="1.5" height="2.0" fill="#a279e4"/>
<rect x="745.7" y="220.6" width="1.5" height="2.0" fill="#a279e4"/>
<rect x="741.6" y="212.3" width="1.5" height="2.0" fill="#a279e4"/>
<rect x="747.8" y="208.4" width="1.5" height="2.0" fill="#a279e4"/>
<rect x="744.4" y="218.2" width="1.5" height="2.0" fill="#a279e4"/>
<rect x="754.5" y="217.3" width="1.5" height="2.0" fill="#a279e4"/>
<rect x="745.6" y="221.3" width="1.5" height="2.0" fill="#a279e4"/>
<rect x="741.1" y="218.1" width="1.5" height="2.0" fill="#a279e4"/>
<rect x="753.6" y="220.6" width="1.5" height="2.0" fill="#a279e4"/>
<rect x="738.3" y="217.6" width="1.5" height="2.0" fill="#a279e4"/>
<rect x="748.4" y="222.0" width="1.5" height="2.0" fill="#a279e4"/>
<rect x="737.1" y="211.9" width="1.5" height="2.0" fill="#a279e4"/>
<rect x="750.6" y="203.3" width="1.5" height="2.0" fill="#a279e4"/>
<rect x="737.1" y="203.1" width="1.5" height="2.0" fill="#a279e4"/>
<rect x="735.1" y="208.5" width="1.5" height="2.0" fill="#a279e4"/>
<rect x="747.9" y="204.0" width="1.5" height="2.0" fill="#a279e4"/>
<rect x="749.0" y="209.2" width="1.5" height="2.0" fill="#a279e4"/>
<rect x="753.7" y="201.1" width="1.5" height="2.0" fill="#a279e4"/>
<rect x="738.1" y="205.0" width="1.5" height="2.0" fill="#a279e4"/>
<rect x="748.2" y="205.2" width="1.5" height="2.0" fill="#a279e4"/>
<rect x="748.5" y="204.7" width="1.5" height="2.0" fill="#a279e4"/>
<rect x="745.7" y="208.4" width="1.5" height="2.0" fill="#a279e4"/>
<rect x="736.1" y="209.0" width="1.5" height="2.0" fill="#a279e4"/>
<rect x="738.0" y="204.9" width="1.5" height="2.0" fill="#a279e4"/>
<rect x="740.0" y="202.6" width="1.5" height="2.0" fill="#a279e4"/>
<rect x="724.6" y="203.2" width="1.5" height="2.0" fill="#a279e4"/>
<rect x="743.8" y="207.1" width="1.5" height="2.0" fill="#a279e4"/>
<rect x="741.0" y="210.8" width="1.5" height="2.0" fill="#a279e4"/>
<rect x="733.0" y="206.4" width="1.5" height="2.0" fill="#a279e4"/>
<rect x="729.6" y="199.3" width="1.5" height="2.0" fill="#a279e4"/>
<rect x="746.2" y="202.7" width="1.5" height="2.0" fill="#a279e4"/>
<rect x="738.6" y="198.4" width="1.5" height="2.0" fill="#a279e4"/>
<rect x="748.9" y="201.9" width="1.5" height="2.0" fill="#a279e4"/>
<rect x="739.9" y="204.2" width="1.5" height="2.0" fill="#a279e4"/>
<rect x="738.5" y="203.1" width="1.5" height="2.0" fill="#a279e4"/>
<rect x="729.8" y="203.0" width="1.5" height="2.0" fill="#a279e4"/>
<rect x="748.0" y="202.6" width="1.5" height="2.0" fill="#a279e4"/>
<rect x="731.8" y="202.7" width="1.5" height="2.0" fill="#a279e4"/>
<rect x="733.6" y="207.5" width="1.5" height="2.0" fill="#a279e4"/>
<rect x="761.0" y="204.8" width="1.5" height="2.0" fill="#a279e4"/>
<rect x="733.3" y="208.1" width="1.5" height="2.0" fill="#a279e4"/>
<rect x="738.9" y="204.9" width="1.5" height="2.0" fill="#a279e4"/>
<rect x="723.9" y="208.2" width="1.5" height="2.0" fill="#a279e4"/>
<rect x="750.5" y="206.2" width="1.5" height="2.0" fill="#a279e4"/>
<rect x="727.7" y="200.9" width="1.5" height="2.0" fill="#a279e4"/>
<rect x="727.0" y="196.7" width="1.5" height="2.0" fill="#a279e4"/>
<rect x="728.3" y="205.6" width="1.5" height="2.0" fill="#a279e4"/>
<rect x="734.1" y="204.5" width="1.5" height="2.0" fill="#a279e4"/>
<rect x="727.3" y="206.0" width="1.5" height="2.0" fill="#a279e4"/>
<rect x="746.2" y="199.8" width="1.5" height="2.0" fill="#a279e4"/>
<rect x="753.1" y="199.9" width="1.5" height="2.0" fill="#a279e4"/>
<rect x="741.6" y="201.9" width="1.5" height="2.0" fill="#a279e4"/>
<rect x="747.0" y="205.4" width="1.5" height="2.0" fill="#a279e4"/>
<rect x="745.3" y="201.9" width="1.5" height="2.0" fill="#a279e4"/>
<rect x="741.5" y="203.6" width="1.5" height="2.0" fill="#a279e4"/>
<rect x="746.0" y="206.4" width="1.5" height="2.0" fill="#a279e4"/>
<rect x="730.3" y="202.5" width="1.5" height="2.0" fill="#a279e4"/>
<rect x="744.8" y="207.2" width="1.5" height="2.0" fill="#a279e4"/>
<rect x="744.9" y="202.3" width="1.5" height="2.0" fill="#a279e4"/>
<rect x="740.8" y="201.4" width="1.5" height="2.0" fill="#a279e4"/>
<rect x="745.5" y="202.5" width="1.5" height="2.0" fill="#a279e4"/>
<rect x="748.1" y="203.9" width="1.5" height="2.0" fill="#a279e4"/>
<rect x="730.9" y="202.7" width="1.5" height="2.0" fill="#a279e4"/>
<rect x="747.4" y="203.4" width="1.5" height="2.0" fill="#a279e4"/>
<rect x="747.2" y="202.9" width="1.5" height="2.0" fill="#a279e4"/>
<rect x="734.7" y="208.8" width="1.5" height="2.0" fill="#a279e4"/>
<rect x="737.4" y="205.5" width="1.5" height="2.0" fill="#a279e4"/>
<rect x="742.9" y="197.5" width="1.5" height="2.0" fill="#a279e4"/>
<rect x="729.8" y="205.3" width="1.5" height="2.0" fill="#a279e4"/>
<rect x="751.0" y="199.4" width="1.5" height="2.0" fill="#a279e4"/>
<rect x="739.5" y="202.8" width="1.5" height="2.0" fill="#a279e4"/>
<rect x="744.7" y="197.5" width="1.5" height="2.0" fill="#a279e4"/>
<rect x="737.1" y="206.0" width="1.5" height="2.0" fill="#a279e4"/>
<rect x="748.9" y="205.6" width="1.5" height="2.0" fill="#a279e4"/>
<rect x="759.3" y="182.7" width="1.5" height="2.0" fill="#a279e4"/>
<rect x="759.2" y="185.5" width="1.5" height="2.0" fill="#a279e4"/>
<rect x="760.6" y="187.4" width="1.5" height="2.0" fill="#a279e4"/>
<rect x="760.7" y="184.7" width="1.5" height="2.0" fill="#a279e4"/>
<rect x="751.2" y="186.5" width="1.5" height="2.0" fill="#a279e4"/>
<rect x="757.7" y="184.6" width="1.5" height="2.0" fill="#a279e4"/>
<rect x="763.9" y="185.8" width="1.5" height="2.0" fill="#a279e4"/>
<rect x="771.1" y="188.4" width="1.5" height="2.0" fill="#a279e4"/>
<rect x="758.9" y="184.0" width="1.5" height="2.0" fill="#a279e4"/>
<rect x="759.5" y="186.7" width="1.5" height="2.0" fill="#a279e4"/>
<rect x="759.0" y="185.5" width="1.5" height="2.0" fill="#a279e4"/>
<rect x="759.4" y="183.9" width="1.5" height="2.0" fill="#a279e4"/>
<rect x="749.9" y="185.2" width="1.5" height="2.0" fill="#a279e4"/>
<rect x="757.6" y="186.0" width="1.5" height="2.0" fill="#a279e4"/>
<rect x="768.6" y="183.7" width="1.5" height="2.0" fill="#a279e4"/>
<rect x="763.4" y="190.4" width="1.5" height="2.0" fill="#a279e4"/>
<rect x="762.5" y="188.9" width="1.5" height="2.0" fill="#a279e4"/>
<rect x="753.9" y="186.7" width="1.5" height="2.0" fill="#a279e4"/>
<rect x="769.1" y="189.4" width="1.5" height="2.0" fill="#a279e4"/>
<rect x="766.0" y="182.4" width="1.5" height="2.0" fill="#a279e4"/>
<rect x="765.4" y="184.9" width="1.5" height="2.0" fill="#a279e4"/>
<rect x="766.6" y="186.7" width="1.5" height="2.0" fill="#a279e4"/>
<rect x="759.2" y="184.7" width="1.5" height="2.0" fill="#a279e4"/>
<rect x="755.5" y="185.9" width="1.5" height="2.0" fill="#a279e4"/>
<rect x="761.8" y="186.3" width="1.5" height="2.0" fill="#a279e4"/>
<rect x="747.1" y="178.6" width="1.5" height="2.0" fill="#a279e4"/>
<rect x="742.8" y="195.0" width="1.5" height="2.0" fill="#a279e4"/>
<rect x="747.4" y="187.2" width="1.5" height="2.0" fill="#a279e4"/>
<rect x="739.5" y="175.6" width="1.5" height="2.0" fill="#a279e4"/>
<rect x="746.2" y="180.3" width="1.5" height="2.0" fill="#a279e4"/>
<rect x="746.9" y="178.8" width="1.5" height="2.0" fill="#a279e4"/>
<rect x="745.0" y="191.4" width="1.5" height="2.0" fill="#a279e4"/>
<rect x="742.7" y="197.5" width="1.5" height="2.0" fill="#a279e4"/>
<rect x="744.0" y="171.2" width="1.5" height="2.0" fill="#a279e4"/>
<rect x="745.3" y="181.3" width="1.5" height="2.0" fill="#a279e4"/>
<rect x="743.5" y="190.0" width="1.5" height="2.0" fill="#a279e4"/>
<rect x="743.0" y="189.8" width="1.5" height="2.0" fill="#a279e4"/>
<rect x="729.9" y="222.2" width="1.5" height="2.0" fill="#a279e4"/>
<rect x="733.7" y="222.9" width="1.5" height="2.0" fill="#a279e4"/>
<rect x="720.1" y="222.5" width="1.5" height="2.0" fill="#a279e4"/>
<rect x="757.7" y="221.8" width="1.5" height="2.0" fill="#a279e4"/>
<rect x="745.8" y="220.4" width="1.5" height="2.0" fill="#a279e4"/>
<rect x="757.2" y="222.1" width="1.5" height="2.0" fill="#a279e4"/>
<rect x="712.5" y="221.1" width="1.5" height="2.0" fill="#a279e4"/>
<rect x="716.0" y="221.7" width="1.5" height="2.0" fill="#a279e4"/>
<rect x="756.1" y="222.2" width="1.5" height="2.0" fill="#a279e4"/>
<rect x="718.7" y="221.2" width="1.5" height="2.0" fill="#a279e4"/>
<rect x="747.9" y="221.9" width="1.5" height="2.0" fill="#a279e4"/>
<rect x="712.4" y="222.9" width="1.5" height="2.0" fill="#a279e4"/>
<rect x="714.8" y="222.6" width="1.5" height="2.0" fill="#a279e4"/>
<rect x="734.8" y="220.6" width="1.5" height="2.0" fill="#a279e4"/>
<rect x="736.2" y="222.0" width="1.5" height="2.0" fill="#a279e4"/>
<rect x="742.2" y="222.0" width="1.5" height="2.0" fill="#a279e4"/>
<rect x="764.0" y="221.5" width="1.5" height="2.0" fill="#a279e4"/>
<rect x="733.3" y="222.7" width="1.5" height="2.0" fill="#a279e4"/>
<rect x="707.1" y="222.1" width="1.5" height="2.0" fill="#a279e4"/>
<rect x="734.3" y="222.2" width="1.5" height="2.0" fill="#a279e4"/>
<rect x="761.8" y="219.6" width="1.5" height="2.0" fill="#a279e4"/>
<rect x="752.7" y="222.9" width="1.5" height="2.0" fill="#a279e4"/>
<rect x="729.4" y="222.9" width="1.5" height="2.0" fill="#a279e4"/>
<rect x="730.2" y="222.9" width="1.5" height="2.0" fill="#a279e4"/>
<rect x="732.7" y="222.9" width="1.5" height="2.0" fill="#a279e4"/>
<rect x="742.0" y="222.8" width="1.5" height="2.0" fill="#a279e4"/>
<rect x="749.2" y="220.9" width="1.5" height="2.0" fill="#a279e4"/>
<rect x="717.2" y="222.9" width="1.5" height="2.0" fill="#a279e4"/>
<rect x="744.8" y="220.4" width="1.5" height="2.0" fill="#a279e4"/>
<rect x="730.9" y="222.6" width="1.5" height="2.0" fill="#a279e4"/>
<rect x="761.0" y="188.9" width="1.5" height="2.0" fill="#a279e4"/>
<rect x="752.6" y="196.8" width="1.5" height="2.0" fill="#a279e4"/>
<rect x="766.2" y="211.8" width="1.5" height="2.0" fill="#a279e4"/>
<rect x="770.8" y="199.3" width="1.5" height="2.0" fill="#a279e4"/>
<rect x="739.1" y="215.2" width="1.5" height="2.0" fill="#a279e4"/>
<rect x="741.1" y="200.8" width="1.5" height="2.0" fill="#a279e4"/>
<rect x="760.3" y="208.0" width="1.5" height="2.0" fill="#a279e4"/>
<rect x="770.1" y="207.1" width="1.5" height="2.0" fill="#a279e4"/>
<rect x="750.4" y="214.0" width="1.5" height="2.0" fill="#a279e4"/>
<rect x="772.0" y="213.6" width="1.5" height="2.0" fill="#a279e4"/>
<rect x="769.1" y="201.8" width="1.5" height="2.0" fill="#a279e4"/>
<rect x="754.5" y="201.3" width="1.5" height="2.0" fill="#a279e4"/>
<rect x="742.0" y="191.1" width="1.5" height="2.0" fill="#a279e4"/>
<rect x="772.8" y="193.8" width="1.5" height="2.0" fill="#a279e4"/>
<rect x="756.3" y="214.0" width="1.5" height="2.0" fill="#a279e4"/>
<line x1="678.5" y1="88.8" x2="784.5" y2="61.5" stroke="#58cc3a" stroke-width="1.7"/>
<line x1="678.5" y1="220.6" x2="784.5" y2="198.6" stroke="#58cc3a" stroke-width="1.7"/>
<rect x="678.5" y="15.4" width="106.0" height="80.69999999999999" fill="none" stroke="#444" stroke-width="1.1"/>
<line x1="678.5" y1="96.1" x2="678.5" y2="94.6" stroke="#333" stroke-width="0.9"/>
<line x1="678.5" y1="15.4" x2="678.5" y2="16.9" stroke="#333" stroke-width="0.9"/>
<line x1="713.8" y1="96.1" x2="713.8" y2="94.6" stroke="#333" stroke-width="0.9"/>
<line x1="713.8" y1="15.4" x2="713.8" y2="16.9" stroke="#333" stroke-width="0.9"/>
<line x1="749.2" y1="96.1" x2="749.2" y2="94.6" stroke="#333" stroke-width="0.9"/>
<line x1="749.2" y1="15.4" x2="749.2" y2="16.9" stroke="#333" stroke-width="0.9"/>
<line x1="784.5" y1="96.1" x2="784.5" y2="94.6" stroke="#333" stroke-width="0.9"/>
<line x1="784.5" y1="15.4" x2="784.5" y2="16.9" stroke="#333" stroke-width="0.9"/>
<rect x="678.5" y="142.9" width="106.0" height="81.5" fill="none" stroke="#444" stroke-width="1.1"/>
<line x1="678.5" y1="224.4" x2="678.5" y2="222.9" stroke="#333" stroke-width="0.9"/>
<line x1="678.5" y1="142.9" x2="678.5" y2="144.4" stroke="#333" stroke-width="0.9"/>
<line x1="713.8" y1="224.4" x2="713.8" y2="222.9" stroke="#333" stroke-width="0.9"/>
<line x1="713.8" y1="142.9" x2="713.8" y2="144.4" stroke="#333" stroke-width="0.9"/>
<line x1="749.2" y1="224.4" x2="749.2" y2="222.9" stroke="#333" stroke-width="0.9"/>
<line x1="749.2" y1="142.9" x2="749.2" y2="144.4" stroke="#333" stroke-width="0.9"/>
<line x1="784.5" y1="224.4" x2="784.5" y2="222.9" stroke="#333" stroke-width="0.9"/>
<line x1="784.5" y1="142.9" x2="784.5" y2="144.4" stroke="#333" stroke-width="0.9"/>
<line x1="678.5" y1="96.1" x2="680.0" y2="96.1" stroke="#333" stroke-width="0.9"/>
<line x1="784.5" y1="96.1" x2="783.0" y2="96.1" stroke="#333" stroke-width="0.9"/>
<text x="674.0" y="99.9" font-size="14" text-anchor="end" >0</text>
<line x1="678.5" y1="78.2" x2="680.0" y2="78.2" stroke="#333" stroke-width="0.9"/>
<line x1="784.5" y1="78.2" x2="783.0" y2="78.2" stroke="#333" stroke-width="0.9"/>
<text x="674.0" y="82.7" font-size="14" text-anchor="end" >1</text>
<line x1="678.5" y1="60.2" x2="680.0" y2="60.2" stroke="#333" stroke-width="0.9"/>
<line x1="784.5" y1="60.2" x2="783.0" y2="60.2" stroke="#333" stroke-width="0.9"/>
<text x="674.0" y="65.0" font-size="14" text-anchor="end" >2</text>
<line x1="678.5" y1="42.3" x2="680.0" y2="42.3" stroke="#333" stroke-width="0.9"/>
<line x1="784.5" y1="42.3" x2="783.0" y2="42.3" stroke="#333" stroke-width="0.9"/>
<text x="674.0" y="47.1" font-size="14" text-anchor="end" >3</text>
<line x1="678.5" y1="24.4" x2="680.0" y2="24.4" stroke="#333" stroke-width="0.9"/>
<line x1="784.5" y1="24.4" x2="783.0" y2="24.4" stroke="#333" stroke-width="0.9"/>
<text x="674.0" y="29.3" font-size="14" text-anchor="end" >4</text>
<line x1="678.5" y1="224.4" x2="680.0" y2="224.4" stroke="#333" stroke-width="0.9"/>
<line x1="784.5" y1="224.4" x2="783.0" y2="224.4" stroke="#333" stroke-width="0.9"/>
<text x="674.0" y="226.7" font-size="14" text-anchor="end" >0</text>
<line x1="678.5" y1="201.1" x2="680.0" y2="201.1" stroke="#333" stroke-width="0.9"/>
<line x1="784.5" y1="201.1" x2="783.0" y2="201.1" stroke="#333" stroke-width="0.9"/>
<text x="674.0" y="205.1" font-size="14" text-anchor="end" >2</text>
<line x1="678.5" y1="177.8" x2="680.0" y2="177.8" stroke="#333" stroke-width="0.9"/>
<line x1="784.5" y1="177.8" x2="783.0" y2="177.8" stroke="#333" stroke-width="0.9"/>
<text x="674.0" y="182.4" font-size="14" text-anchor="end" >4</text>
<line x1="678.5" y1="154.5" x2="680.0" y2="154.5" stroke="#333" stroke-width="0.9"/>
<line x1="784.5" y1="154.5" x2="783.0" y2="154.5" stroke="#333" stroke-width="0.9"/>
<text x="674.0" y="159.1" font-size="14" text-anchor="end" >6</text>
<text x="679.2" y="110.0" font-size="14" text-anchor="middle" >0</text>
<text x="679.2" y="241.4" font-size="14" text-anchor="middle" >0</text>
<text x="714.0" y="110.0" font-size="14" text-anchor="middle" >50</text>
<text x="714.0" y="241.4" font-size="14" text-anchor="middle" >50</text>
<text x="749.2" y="110.0" font-size="14" text-anchor="middle" >100</text>
<text x="749.2" y="241.4" font-size="14" text-anchor="middle" >100</text>
<text x="784.2" y="110.0" font-size="14" text-anchor="middle" >150</text>
<text x="784.2" y="241.4" font-size="14" text-anchor="middle" >150</text>
<text x="727" y="124.0" font-size="13.5" text-anchor="middle"><tspan font-style="italic">v</tspan>/[mm/s]</text>
<text x="727" y="259.2" font-size="13.5" text-anchor="middle"><tspan font-style="italic">v</tspan>/[mm/s]</text>
<text transform="translate(662.2,57.0) rotate(-90)" font-size="14" text-anchor="middle"><tspan font-style="italic">E</tspan><tspan font-size="8" dy="2.6">pos</tspan><tspan dy="-2.6">/[cm]</tspan></text>
<text transform="translate(662.2,184.6) rotate(-90)" font-size="14" text-anchor="middle"><tspan font-style="italic">E</tspan><tspan font-size="8" dy="2.6">ang</tspan><tspan dy="-2.6">/[°]</tspan></text>
<text x="645.4" y="18.4" font-size="17.5" text-anchor="start" >(d)</text>
</svg>
</body></html>
